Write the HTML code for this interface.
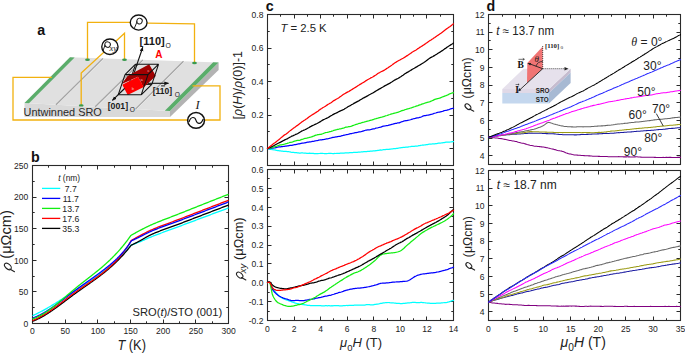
<!DOCTYPE html>
<html><head><meta charset="utf-8"><style>
html,body{margin:0;padding:0;background:#fff;width:685px;height:353px;overflow:hidden}
svg{display:block}
</style></head><body>
<svg width="685" height="353" viewBox="0 0 685 353" font-family='"Liberation Sans", sans-serif'>
<rect width="685" height="353" fill="#fff"/>
<polygon points="24.5,103 170,111 170,117 24.5,117" fill="#d9d9d9"/>
<polygon points="218.6,62.5 218.6,70 170,117 170,111" fill="#b3b3b3"/>
<polygon points="70,57.2 218.6,62.5 170,111 24.5,103" fill="#e0e0e0"/>
<line x1="104.2" y1="58.4" x2="57.2" y2="104.7" stroke="#f2f2f2" stroke-width="0.9"/>
<line x1="103" y1="58.4" x2="56" y2="104.7" stroke="#a4a4a4" stroke-width="1.25"/>
<line x1="144.2" y1="59.9" x2="96.4" y2="106.8" stroke="#f2f2f2" stroke-width="0.9"/>
<line x1="143" y1="59.9" x2="95.2" y2="106.8" stroke="#a4a4a4" stroke-width="1.25"/>
<line x1="184.7" y1="61.3" x2="136.7" y2="109.1" stroke="#f2f2f2" stroke-width="0.9"/>
<line x1="183.5" y1="61.3" x2="135.5" y2="109.1" stroke="#a4a4a4" stroke-width="1.25"/>
<polygon points="70,57.2 74.6,57.4 29,103.2 24.5,103" fill="#5aad6a"/>
<polygon points="213.2,62.3 218.6,62.5 170,111 164.8,110.7" fill="#5aad6a"/>
<text x="23.6" y="116" font-size="11.2" text-anchor="start" fill="#2a2a2a" font-weight="normal" font-style="normal" textLength="78.2" lengthAdjust="spacingAndGlyphs">Untwinned SRO</text>
<path d="M151.8 84.4L128.8 84.4M128.8 84.4L118.2 94.8M135.6 64.2L128.8 84.4" stroke="#111" stroke-width="1.0" fill="none" stroke-linejoin="round"/>
<line x1="133.4" y1="75" x2="137" y2="64.4" stroke="#111" stroke-width="1.1"/>
<polygon points="121.8,84 127.5,76 149.2,64.2 155.8,75.9 143.8,87.2 137.9,76.7" fill="#a00000"/>
<polygon points="122.3,84.8 137.9,76.7 143.8,86.9 127.7,95.1" fill="#ff0000"/>
<path d="M125 74.6L148 74.6M148 74.6L158.6 64.2M158.6 64.2L135.6 64.2M135.6 64.2L125 74.6M118.2 94.8L141.2 94.8M141.2 94.8L151.8 84.4M125 74.6L118.2 94.8M148 74.6L141.2 94.8M158.6 64.2L151.8 84.4" stroke="#111" stroke-width="1.05" fill="none" stroke-linejoin="round"/>
<defs><marker id="ah" viewBox="0 0 10 10" refX="9" refY="5" markerWidth="4.2" markerHeight="4.2" orient="auto-start-reverse"><path d="M0,1 L10,5 L0,9 z" fill="#111"/></marker></defs>
<line x1="136.5" y1="65.8" x2="142.8" y2="47.2" stroke="#111" stroke-width="1.1" marker-end="url(#ah)"/>
<line x1="148" y1="83.3" x2="168.5" y2="83.3" stroke="#111" stroke-width="1.1" marker-end="url(#ah)"/>
<line x1="124.5" y1="88.5" x2="112.4" y2="100.4" stroke="#111" stroke-width="1.1" marker-end="url(#ah)"/>
<text x="139.6" y="44.6" font-size="10.6" text-anchor="start" fill="#1a1a1a" font-weight="bold" font-style="normal" textLength="25.2" lengthAdjust="spacingAndGlyphs">[110]</text>
<text x="165.5" y="47.7" font-size="6.8" text-anchor="start" fill="#1a1a1a" font-weight="normal" font-style="normal" >O</text>
<text x="155.2" y="58.1" font-size="10" text-anchor="start" fill="#ff0000" font-weight="bold" font-style="normal" >A</text>
<text x="152.7" y="94.3" font-size="9" text-anchor="start" fill="#1a1a1a" font-weight="bold" font-style="normal" textLength="19.4" lengthAdjust="spacingAndGlyphs">[110]</text>
<line x1="161.1" y1="85.9" x2="165.1" y2="85.9" stroke="#1a1a1a" stroke-width="1"/>
<text x="174.7" y="97" font-size="6.6" text-anchor="start" fill="#1a1a1a" font-weight="normal" font-style="normal" >O</text>
<text x="107.7" y="109" font-size="9" text-anchor="start" fill="#1a1a1a" font-weight="bold" font-style="normal" textLength="20.4" lengthAdjust="spacingAndGlyphs">[001]</text>
<text x="129.7" y="111.7" font-size="6.6" text-anchor="start" fill="#1a1a1a" font-weight="normal" font-style="normal" >O</text>
<text x="147.5" y="71.5" font-size="4" text-anchor="start" fill="#f3c0c0" font-weight="normal" font-style="normal" >c</text>
<text x="140.5" y="80.5" font-size="4" text-anchor="start" fill="#f3c0c0" font-weight="normal" font-style="normal" >a</text>
<text x="131.8" y="89.5" font-size="4" text-anchor="start" fill="#f3c0c0" font-weight="normal" font-style="normal" >b</text>
<polyline points="87.5,59.6 87.5,22.3 130,22.3" fill="none" stroke="#f2b10f" stroke-width="1.3"/>
<polyline points="147.3,23.1 194.5,23.8 194.5,62.5" fill="none" stroke="#f2b10f" stroke-width="1.3"/>
<polyline points="124.5,59.6 124.5,33.2 81.2,73 81.2,105.2" fill="none" stroke="#f2b10f" stroke-width="1.3"/>
<polyline points="51.8,77.4 13,77.4 13,120 188,120" fill="none" stroke="#f2b10f" stroke-width="1.3"/>
<polyline points="205,120 220,120 220,85.8 192.5,85.8" fill="none" stroke="#f2b10f" stroke-width="1.3"/>
<ellipse cx="87.5" cy="59.8" rx="2.4" ry="1.2" fill="#3a9a4e"/>
<ellipse cx="124.5" cy="59.8" rx="2.4" ry="1.2" fill="#3a9a4e"/>
<ellipse cx="81.2" cy="105.4" rx="2.4" ry="1.2" fill="#3a9a4e"/>
<ellipse cx="194.5" cy="63" rx="2.4" ry="1.2" fill="#3a9a4e"/>
<ellipse cx="138.65" cy="22.55" rx="8.4" ry="7.5" fill="#fff" stroke="#111" stroke-width="1.35"/>
<g fill="none" stroke="#1a1a1a" stroke-width="0.95" stroke-linecap="round"><ellipse cx="139.5" cy="21.1" rx="2.7" ry="2.9" transform="rotate(25 139.5 21.1)"/><path d="M137.0,22.0 L134.6,27.6"/></g>
<ellipse cx="109.9" cy="46.7" rx="8.15" ry="7.75" fill="#fff" stroke="#111" stroke-width="1.35"/>
<g fill="none" stroke="#1a1a1a" stroke-width="0.95" stroke-linecap="round"><ellipse cx="107.6" cy="44.6" rx="2.8" ry="2.7" transform="rotate(25 107.6 44.6)"/><path d="M105.0,45.4 L102.9,50.8"/></g>
<text x="109.4" y="51" font-size="8.6" text-anchor="start" fill="#1a1a1a" font-weight="normal" font-style="italic" font-family='Liberation Serif' >xy</text>
<ellipse cx="196.05" cy="120.45" rx="8.4" ry="7.9" fill="#fff" stroke="#111" stroke-width="1.5"/>
<path d="M189,122 C191,116 194.8,116.6 196,120.4 C197.2,124.2 201,125 203.2,119" fill="none" stroke="#111" stroke-width="1.2"/>
<text x="197.6" y="109.4" font-size="12.5" text-anchor="middle" fill="#1a1a1a" font-weight="normal" font-style="italic" font-family='Liberation Serif' >I</text>
<text transform="translate(37.2,35) scale(0.92,1)" font-size="15.5" font-weight="bold" fill="#111">a</text>
<path d="M32.5 323.5v-4M32.5 165.5v4M48.5 323.5v-2.2M48.5 165.5v2.2M65.5 323.5v-4M65.5 165.5v4M81.5 323.5v-2.2M81.5 165.5v2.2M97.5 323.5v-4M97.5 165.5v4M114.5 323.5v-2.2M114.5 165.5v2.2M130.5 323.5v-4M130.5 165.5v4M146.5 323.5v-2.2M146.5 165.5v2.2M163.5 323.5v-4M163.5 165.5v4M179.5 323.5v-2.2M179.5 165.5v2.2M195.5 323.5v-4M195.5 165.5v4M212.5 323.5v-2.2M212.5 165.5v2.2M228.5 323.5v-4M228.5 165.5v4M32.5 323.5h4M228.5 323.5h-4M32.5 307.5h2.2M228.5 307.5h-2.2M32.5 291.5h4M228.5 291.5h-4M32.5 276.5h2.2M228.5 276.5h-2.2M32.5 260.5h4M228.5 260.5h-4M32.5 244.5h2.2M228.5 244.5h-2.2M32.5 228.5h4M228.5 228.5h-4M32.5 212.5h2.2M228.5 212.5h-2.2M32.5 197.5h4M228.5 197.5h-4M32.5 181.5h2.2M228.5 181.5h-2.2M32.5 165.5h4M228.5 165.5h-4" stroke="#2a2a2a" stroke-width="1" fill="none"/>
<rect x="32.5" y="165.5" width="196" height="158" fill="none" stroke="#2a2a2a" stroke-width="1.1"/>
<text transform="translate(28.3,326.8) scale(0.92,1)" font-size="9.3" text-anchor="end" fill="#222">0</text>
<text transform="translate(28.3,295.2) scale(0.92,1)" font-size="9.3" text-anchor="end" fill="#222">50</text>
<text transform="translate(28.3,263.6) scale(0.92,1)" font-size="9.3" text-anchor="end" fill="#222">100</text>
<text transform="translate(28.3,232) scale(0.92,1)" font-size="9.3" text-anchor="end" fill="#222">150</text>
<text transform="translate(28.3,200.4) scale(0.92,1)" font-size="9.3" text-anchor="end" fill="#222">200</text>
<text transform="translate(28.3,168.8) scale(0.92,1)" font-size="9.3" text-anchor="end" fill="#222">250</text>
<text transform="translate(32.5,333.6) scale(0.92,1)" font-size="9.3" text-anchor="middle" fill="#222">0</text>
<text transform="translate(65.17,333.6) scale(0.92,1)" font-size="9.3" text-anchor="middle" fill="#222">50</text>
<text transform="translate(97.83,333.6) scale(0.92,1)" font-size="9.3" text-anchor="middle" fill="#222">100</text>
<text transform="translate(130.5,333.6) scale(0.92,1)" font-size="9.3" text-anchor="middle" fill="#222">150</text>
<text transform="translate(163.17,333.6) scale(0.92,1)" font-size="9.3" text-anchor="middle" fill="#222">200</text>
<text transform="translate(195.83,333.6) scale(0.92,1)" font-size="9.3" text-anchor="middle" fill="#222">250</text>
<text transform="translate(228.5,333.6) scale(0.92,1)" font-size="9.3" text-anchor="middle" fill="#222">300</text>
<polyline points="32.5,315.71 32.95,315.51 33.4,315.3 33.85,315.1 34.3,314.89 34.75,314.68 35.2,314.47 35.65,314.25 36.1,314.04 36.55,313.82 37,313.6 37.46,313.38 37.91,313.15 38.36,312.93 38.81,312.7 39.26,312.47 39.71,312.24 40.16,312.01 40.61,311.77 41.06,311.54 41.51,311.3 41.96,311.06 42.41,310.82 42.86,310.57 43.31,310.33 43.76,310.08 44.21,309.83 44.66,309.58 45.11,309.33 45.56,309.08 46.01,308.83 46.46,308.57 46.92,308.31 47.37,308.06 47.82,307.8 48.27,307.54 48.72,307.27 49.17,307.01 49.62,306.75 50.07,306.48 50.52,306.21 50.97,305.95 51.42,305.68 51.87,305.41 52.32,305.14 52.77,304.86 53.22,304.59 53.67,304.32 54.12,304.04 54.57,303.76 55.02,303.49 55.47,303.21 55.92,302.93 56.38,302.65 56.83,302.37 57.28,302.09 57.73,301.81 58.18,301.53 58.63,301.24 59.08,300.96 59.53,300.67 59.98,300.39 60.43,300.1 60.88,299.82 61.33,299.53 61.78,299.24 62.23,298.96 62.68,298.67 63.13,298.38 63.58,298.09 64.03,297.8 64.48,297.51 64.93,297.22 65.38,296.93 65.83,296.64 66.29,296.35 66.74,296.06 67.19,295.77 67.64,295.48 68.09,295.19 68.54,294.9 68.99,294.6 69.44,294.31 69.89,294.02 70.34,293.73 70.79,293.44 71.24,293.15 71.69,292.86 72.14,292.57 72.59,292.28 73.04,291.99 73.49,291.7 73.94,291.41 74.39,291.12 74.84,290.83 75.29,290.54 75.75,290.25 76.2,289.96 76.65,289.67 77.1,289.38 77.55,289.09 78,288.81 78.45,288.52 78.9,288.23 79.35,287.94 79.8,287.66 80.25,287.37 80.7,287.08 81.15,286.79 81.6,286.5 82.05,286.21 82.5,285.93 82.95,285.64 83.4,285.35 83.85,285.06 84.3,284.77 84.75,284.48 85.21,284.18 85.66,283.89 86.11,283.6 86.56,283.31 87.01,283.01 87.46,282.72 87.91,282.42 88.36,282.13 88.81,281.83 89.26,281.53 89.71,281.24 90.16,280.94 90.61,280.64 91.06,280.33 91.51,280.03 91.96,279.73 92.41,279.42 92.86,279.12 93.31,278.81 93.76,278.5 94.21,278.2 94.67,277.89 95.12,277.57 95.57,277.26 96.02,276.95 96.47,276.63 96.92,276.31 97.37,275.99 97.82,275.67 98.27,275.35 98.72,275.03 99.17,274.7 99.62,274.38 100.07,274.05 100.52,273.72 100.97,273.38 101.42,273.05 101.87,272.71 102.32,272.37 102.77,272.03 103.22,271.69 103.67,271.35 104.13,271 104.58,270.65 105.03,270.3 105.48,269.95 105.93,269.6 106.38,269.24 106.83,268.88 107.28,268.52 107.73,268.15 108.18,267.79 108.63,267.42 109.08,267.05 109.53,266.67 109.98,266.3 110.43,265.92 110.88,265.54 111.33,265.15 111.78,264.76 112.23,264.37 112.68,263.98 113.13,263.59 113.58,263.19 114.04,262.79 114.49,262.38 114.94,261.97 115.39,261.56 115.84,261.15 116.29,260.73 116.74,260.31 117.19,259.89 117.64,259.47 118.09,259.04 118.54,258.6 118.99,258.17 119.44,257.73 119.89,257.29 120.34,256.84 120.79,256.39 121.24,255.94 121.69,255.48 122.14,255.02 122.59,254.56 123.04,254.09 123.5,253.62 123.95,253.14 124.4,252.66 124.85,252.18 125.3,251.7 125.75,251.21 126.2,250.71 126.65,250.21 127.1,249.71 127.55,249.21 128,248.69 128.45,248.18 128.9,247.66 129.35,247.14 129.8,246.61 130.25,246.08 130.7,245.55 131.15,245.01 131.85,244.77 132.55,244.53 133.25,244.28 133.95,244.03 134.66,243.78 135.36,243.53 136.06,243.27 136.76,243.01 137.46,242.74 138.16,242.47 138.86,242.2 139.56,241.92 140.26,241.64 140.96,241.35 141.66,241.06 142.36,240.75 143.06,240.44 143.76,240.13 144.46,239.82 145.16,239.5 145.86,239.18 146.56,238.87 147.26,238.55 147.96,238.25 148.66,237.94 149.36,237.65 150.06,237.36 150.76,237.07 151.46,236.79 152.16,236.51 152.86,236.23 153.56,235.95 154.26,235.68 154.96,235.4 155.67,235.13 156.37,234.86 157.07,234.59 157.77,234.33 158.47,234.06 159.17,233.79 159.87,233.53 160.57,233.27 161.27,233.01 161.97,232.75 162.67,232.49 163.37,232.23 164.07,231.97 164.77,231.71 165.47,231.45 166.17,231.2 166.87,230.94 167.57,230.68 168.27,230.43 168.97,230.17 169.67,229.92 170.37,229.66 171.07,229.41 171.77,229.15 172.47,228.89 173.17,228.64 173.87,228.38 174.57,228.12 175.27,227.87 175.97,227.61 176.68,227.35 177.38,227.09 178.08,226.83 178.78,226.57 179.48,226.31 180.18,226.04 180.88,225.78 181.58,225.52 182.28,225.26 182.98,224.99 183.68,224.73 184.38,224.47 185.08,224.21 185.78,223.94 186.48,223.68 187.18,223.42 187.88,223.16 188.58,222.89 189.28,222.63 189.98,222.37 190.68,222.11 191.38,221.84 192.08,221.58 192.78,221.32 193.48,221.06 194.18,220.8 194.88,220.53 195.58,220.27 196.28,220.01 196.98,219.75 197.69,219.48 198.39,219.22 199.09,218.96 199.79,218.7 200.49,218.44 201.19,218.17 201.89,217.91 202.59,217.65 203.29,217.39 203.99,217.13 204.69,216.86 205.39,216.6 206.09,216.34 206.79,216.08 207.49,215.82 208.19,215.55 208.89,215.29 209.59,215.03 210.29,214.77 210.99,214.51 211.69,214.25 212.39,213.98 213.09,213.72 213.79,213.46 214.49,213.2 215.19,212.94 215.89,212.68 216.59,212.41 217.29,212.15 217.99,211.89 218.7,211.63 219.4,211.37 220.1,211.11 220.8,210.84 221.5,210.58 222.2,210.32 222.9,210.06 223.6,209.8 224.3,209.54 225,209.28 225.7,209.02 226.4,208.75 227.1,208.49 227.8,208.23 228.5,207.97" fill="none" stroke="#00ffff" stroke-width="1.3" stroke-linejoin="round"/>
<polyline points="32.5,321.32 32.95,321.15 33.4,320.98 33.85,320.8 34.3,320.62 34.75,320.43 35.2,320.24 35.65,320.04 36.1,319.84 36.55,319.64 37,319.43 37.46,319.22 37.91,319.01 38.36,318.79 38.81,318.56 39.26,318.34 39.71,318.11 40.16,317.87 40.61,317.63 41.06,317.39 41.51,317.15 41.96,316.9 42.41,316.65 42.86,316.39 43.31,316.13 43.76,315.87 44.21,315.61 44.66,315.34 45.11,315.07 45.56,314.8 46.01,314.52 46.46,314.24 46.92,313.96 47.37,313.68 47.82,313.39 48.27,313.1 48.72,312.81 49.17,312.51 49.62,312.22 50.07,311.92 50.52,311.62 50.97,311.32 51.42,311.01 51.87,310.7 52.32,310.39 52.77,310.08 53.22,309.77 53.67,309.45 54.12,309.14 54.57,308.82 55.02,308.5 55.47,308.18 55.92,307.85 56.38,307.53 56.83,307.2 57.28,306.88 57.73,306.55 58.18,306.22 58.63,305.89 59.08,305.56 59.53,305.23 59.98,304.89 60.43,304.56 60.88,304.22 61.33,303.89 61.78,303.55 62.23,303.21 62.68,302.88 63.13,302.54 63.58,302.2 64.03,301.86 64.48,301.52 64.93,301.18 65.38,300.84 65.83,300.5 66.29,300.16 66.74,299.82 67.19,299.48 67.64,299.14 68.09,298.81 68.54,298.47 68.99,298.13 69.44,297.79 69.89,297.45 70.34,297.11 70.79,296.78 71.24,296.44 71.69,296.11 72.14,295.77 72.59,295.44 73.04,295.1 73.49,294.77 73.94,294.44 74.39,294.11 74.84,293.78 75.29,293.45 75.75,293.13 76.2,292.8 76.65,292.48 77.1,292.15 77.55,291.83 78,291.51 78.45,291.19 78.9,290.87 79.35,290.55 79.8,290.23 80.25,289.92 80.7,289.6 81.15,289.28 81.6,288.96 82.05,288.65 82.5,288.33 82.95,288.02 83.4,287.7 83.85,287.39 84.3,287.07 84.75,286.76 85.21,286.45 85.66,286.13 86.11,285.82 86.56,285.5 87.01,285.19 87.46,284.87 87.91,284.56 88.36,284.24 88.81,283.93 89.26,283.61 89.71,283.3 90.16,282.98 90.61,282.66 91.06,282.34 91.51,282.02 91.96,281.7 92.41,281.38 92.86,281.06 93.31,280.74 93.76,280.42 94.21,280.09 94.67,279.77 95.12,279.44 95.57,279.12 96.02,278.79 96.47,278.46 96.92,278.13 97.37,277.79 97.82,277.46 98.27,277.13 98.72,276.79 99.17,276.45 99.62,276.11 100.07,275.77 100.52,275.43 100.97,275.08 101.42,274.74 101.87,274.39 102.32,274.04 102.77,273.69 103.22,273.33 103.67,272.97 104.13,272.62 104.58,272.26 105.03,271.89 105.48,271.53 105.93,271.16 106.38,270.79 106.83,270.42 107.28,270.04 107.73,269.66 108.18,269.29 108.63,268.9 109.08,268.52 109.53,268.13 109.98,267.74 110.43,267.34 110.88,266.95 111.33,266.55 111.78,266.15 112.23,265.74 112.68,265.33 113.13,264.92 113.58,264.5 114.04,264.09 114.49,263.66 114.94,263.24 115.39,262.81 115.84,262.38 116.29,261.94 116.74,261.51 117.19,261.06 117.64,260.62 118.09,260.17 118.54,259.71 118.99,259.25 119.44,258.79 119.89,258.33 120.34,257.86 120.79,257.38 121.24,256.91 121.69,256.43 122.14,255.94 122.59,255.45 123.04,254.95 123.5,254.46 123.95,253.95 124.4,253.44 124.85,252.93 125.3,252.42 125.75,251.89 126.2,251.37 126.65,250.84 127.1,250.3 127.55,249.76 128,249.22 128.45,248.67 128.9,248.11 129.35,247.55 129.8,246.99 130.25,246.42 130.7,245.84 131.15,245.26 131.85,244.92 132.55,244.58 133.25,244.24 133.95,243.89 134.66,243.54 135.36,243.19 136.06,242.84 136.76,242.48 137.46,242.12 138.16,241.76 138.86,241.39 139.56,241.02 140.26,240.65 140.96,240.26 141.66,239.86 142.36,239.46 143.06,239.04 143.76,238.63 144.46,238.21 145.16,237.8 145.86,237.38 146.56,236.98 147.26,236.58 147.96,236.2 148.66,235.83 149.36,235.47 150.06,235.14 150.76,234.81 151.46,234.49 152.16,234.17 152.86,233.86 153.56,233.56 154.26,233.26 154.96,232.96 155.67,232.67 156.37,232.38 157.07,232.1 157.77,231.82 158.47,231.54 159.17,231.27 159.87,231 160.57,230.73 161.27,230.46 161.97,230.2 162.67,229.94 163.37,229.68 164.07,229.43 164.77,229.17 165.47,228.92 166.17,228.67 166.87,228.42 167.57,228.17 168.27,227.92 168.97,227.67 169.67,227.42 170.37,227.17 171.07,226.92 171.77,226.67 172.47,226.42 173.17,226.17 173.87,225.92 174.57,225.67 175.27,225.41 175.97,225.15 176.68,224.9 177.38,224.64 178.08,224.37 178.78,224.11 179.48,223.84 180.18,223.57 180.88,223.31 181.58,223.04 182.28,222.77 182.98,222.5 183.68,222.23 184.38,221.96 185.08,221.69 185.78,221.42 186.48,221.16 187.18,220.89 187.88,220.62 188.58,220.35 189.28,220.08 189.98,219.81 190.68,219.54 191.38,219.28 192.08,219.01 192.78,218.74 193.48,218.47 194.18,218.2 194.88,217.93 195.58,217.66 196.28,217.4 196.98,217.13 197.69,216.86 198.39,216.59 199.09,216.32 199.79,216.05 200.49,215.79 201.19,215.52 201.89,215.25 202.59,214.98 203.29,214.71 203.99,214.44 204.69,214.18 205.39,213.91 206.09,213.64 206.79,213.37 207.49,213.1 208.19,212.83 208.89,212.57 209.59,212.3 210.29,212.03 210.99,211.76 211.69,211.49 212.39,211.23 213.09,210.96 213.79,210.69 214.49,210.42 215.19,210.15 215.89,209.88 216.59,209.62 217.29,209.35 217.99,209.08 218.7,208.81 219.4,208.54 220.1,208.28 220.8,208.01 221.5,207.74 222.2,207.47 222.9,207.21 223.6,206.94 224.3,206.67 225,206.4 225.7,206.13 226.4,205.87 227.1,205.6 227.8,205.33 228.5,205.06" fill="none" stroke="#000000" stroke-width="1.3" stroke-linejoin="round"/>
<polyline points="32.5,320.55 32.95,320.37 33.4,320.19 33.85,320 34.31,319.81 34.76,319.62 35.21,319.42 35.66,319.21 36.11,319 36.56,318.79 37.01,318.57 37.47,318.35 37.92,318.12 38.37,317.9 38.82,317.66 39.27,317.43 39.72,317.18 40.17,316.94 40.62,316.69 41.08,316.44 41.53,316.19 41.98,315.93 42.43,315.67 42.88,315.4 43.33,315.14 43.78,314.87 44.24,314.59 44.69,314.32 45.14,314.04 45.59,313.75 46.04,313.47 46.49,313.18 46.94,312.89 47.4,312.6 47.85,312.3 48.3,312 48.75,311.7 49.2,311.4 49.65,311.1 50.1,310.79 50.55,310.48 51.01,310.17 51.46,309.86 51.91,309.54 52.36,309.22 52.81,308.91 53.26,308.59 53.71,308.26 54.17,307.94 54.62,307.62 55.07,307.29 55.52,306.96 55.97,306.63 56.42,306.3 56.87,305.97 57.33,305.64 57.78,305.3 58.23,304.97 58.68,304.63 59.13,304.3 59.58,303.96 60.03,303.62 60.48,303.28 60.94,302.94 61.39,302.6 61.84,302.26 62.29,301.92 62.74,301.58 63.19,301.24 63.64,300.9 64.1,300.56 64.55,300.21 65,299.87 65.45,299.53 65.9,299.19 66.35,298.85 66.8,298.51 67.26,298.17 67.71,297.83 68.16,297.49 68.61,297.15 69.06,296.81 69.51,296.47 69.96,296.13 70.41,295.8 70.87,295.46 71.32,295.13 71.77,294.79 72.22,294.46 72.67,294.13 73.12,293.8 73.57,293.47 74.03,293.14 74.48,292.82 74.93,292.49 75.38,292.17 75.83,291.84 76.28,291.52 76.73,291.2 77.19,290.89 77.64,290.57 78.09,290.25 78.54,289.94 78.99,289.63 79.44,289.31 79.89,289 80.34,288.69 80.8,288.38 81.25,288.07 81.7,287.76 82.15,287.45 82.6,287.14 83.05,286.84 83.5,286.53 83.96,286.22 84.41,285.91 84.86,285.61 85.31,285.3 85.76,284.99 86.21,284.69 86.66,284.38 87.12,284.07 87.57,283.77 88.02,283.46 88.47,283.15 88.92,282.84 89.37,282.53 89.82,282.22 90.27,281.91 90.73,281.6 91.18,281.29 91.63,280.98 92.08,280.66 92.53,280.35 92.98,280.03 93.43,279.72 93.89,279.4 94.34,279.08 94.79,278.76 95.24,278.44 95.69,278.12 96.14,277.79 96.59,277.47 97.05,277.14 97.5,276.81 97.95,276.48 98.4,276.14 98.85,275.81 99.3,275.47 99.75,275.13 100.21,274.79 100.66,274.45 101.11,274.11 101.56,273.76 102.01,273.41 102.46,273.06 102.91,272.7 103.36,272.35 103.82,271.99 104.27,271.62 104.72,271.26 105.17,270.89 105.62,270.52 106.07,270.15 106.52,269.77 106.98,269.39 107.43,269.01 107.88,268.62 108.33,268.23 108.78,267.84 109.23,267.44 109.68,267.05 110.14,266.64 110.59,266.24 111.04,265.83 111.49,265.41 111.94,264.99 112.39,264.57 112.84,264.14 113.29,263.71 113.75,263.27 114.2,262.83 114.65,262.38 115.1,261.93 115.55,261.47 116,261.01 116.45,260.54 116.91,260.06 117.36,259.58 117.81,259.09 118.26,258.59 118.71,258.09 119.16,257.58 119.61,257.06 120.07,256.53 120.52,256 120.97,255.46 121.42,254.91 121.87,254.35 122.32,253.79 122.77,253.21 123.22,252.63 123.68,252.03 124.13,251.43 124.58,250.82 125.03,250.2 125.48,249.57 125.93,248.93 126.38,248.28 126.84,247.62 127.29,246.94 127.74,246.26 128.19,245.57 128.64,244.86 129.09,244.15 129.54,243.42 130,242.68 130.45,241.93 130.9,241.17 131.35,240.39 132.05,240 132.75,239.61 133.45,239.22 134.15,238.83 134.84,238.45 135.54,238.07 136.24,237.68 136.94,237.3 137.64,236.93 138.34,236.55 139.04,236.18 139.74,235.81 140.44,235.44 141.13,235.06 141.83,234.69 142.53,234.32 143.23,233.94 143.93,233.57 144.63,233.2 145.33,232.84 146.03,232.48 146.73,232.12 147.42,231.77 148.12,231.43 148.82,231.1 149.52,230.77 150.22,230.45 150.92,230.14 151.62,229.84 152.32,229.53 153.02,229.23 153.71,228.94 154.41,228.64 155.11,228.35 155.81,228.07 156.51,227.79 157.21,227.5 157.91,227.23 158.61,226.95 159.31,226.68 160.01,226.41 160.7,226.14 161.4,225.87 162.1,225.61 162.8,225.35 163.5,225.08 164.2,224.82 164.9,224.56 165.6,224.31 166.3,224.05 166.99,223.79 167.69,223.54 168.39,223.28 169.09,223.03 169.79,222.77 170.49,222.51 171.19,222.26 171.89,222 172.59,221.75 173.28,221.49 173.98,221.23 174.68,220.98 175.38,220.72 176.08,220.45 176.78,220.19 177.48,219.93 178.18,219.66 178.88,219.4 179.58,219.13 180.27,218.86 180.97,218.59 181.67,218.32 182.37,218.05 183.07,217.78 183.77,217.51 184.47,217.24 185.17,216.97 185.87,216.7 186.56,216.43 187.26,216.16 187.96,215.89 188.66,215.62 189.36,215.35 190.06,215.08 190.76,214.81 191.46,214.54 192.16,214.27 192.85,214 193.55,213.73 194.25,213.46 194.95,213.19 195.65,212.92 196.35,212.65 197.05,212.38 197.75,212.11 198.45,211.84 199.15,211.57 199.84,211.31 200.54,211.04 201.24,210.77 201.94,210.5 202.64,210.23 203.34,209.96 204.04,209.69 204.74,209.42 205.44,209.15 206.13,208.88 206.83,208.61 207.53,208.34 208.23,208.07 208.93,207.8 209.63,207.53 210.33,207.26 211.03,206.99 211.73,206.72 212.42,206.45 213.12,206.18 213.82,205.92 214.52,205.65 215.22,205.38 215.92,205.11 216.62,204.84 217.32,204.57 218.02,204.3 218.72,204.03 219.41,203.76 220.11,203.49 220.81,203.22 221.51,202.95 222.21,202.68 222.91,202.41 223.61,202.14 224.31,201.88 225.01,201.61 225.7,201.34 226.4,201.07 227.1,200.8 227.8,200.53 228.5,200.26" fill="none" stroke="#ff0000" stroke-width="1.3" stroke-linejoin="round"/>
<polyline points="32.5,318.08 32.95,317.93 33.4,317.76 33.85,317.59 34.31,317.42 34.76,317.24 35.21,317.06 35.66,316.87 36.11,316.68 36.56,316.49 37.01,316.29 37.47,316.08 37.92,315.87 38.37,315.66 38.82,315.44 39.27,315.22 39.72,315 40.17,314.77 40.62,314.54 41.08,314.3 41.53,314.06 41.98,313.82 42.43,313.57 42.88,313.32 43.33,313.06 43.78,312.81 44.24,312.55 44.69,312.28 45.14,312.01 45.59,311.74 46.04,311.47 46.49,311.19 46.94,310.92 47.4,310.63 47.85,310.35 48.3,310.06 48.75,309.77 49.2,309.48 49.65,309.18 50.1,308.88 50.55,308.58 51.01,308.28 51.46,307.98 51.91,307.67 52.36,307.36 52.81,307.05 53.26,306.73 53.71,306.42 54.17,306.1 54.62,305.78 55.07,305.46 55.52,305.14 55.97,304.81 56.42,304.49 56.87,304.16 57.33,303.83 57.78,303.5 58.23,303.17 58.68,302.84 59.13,302.51 59.58,302.17 60.03,301.84 60.48,301.5 60.94,301.16 61.39,300.82 61.84,300.48 62.29,300.14 62.74,299.8 63.19,299.46 63.64,299.12 64.1,298.78 64.55,298.44 65,298.09 65.45,297.75 65.9,297.41 66.35,297.06 66.8,296.72 67.26,296.38 67.71,296.03 68.16,295.69 68.61,295.35 69.06,295 69.51,294.66 69.96,294.32 70.41,293.98 70.87,293.64 71.32,293.3 71.77,292.96 72.22,292.62 72.67,292.28 73.12,291.94 73.57,291.6 74.03,291.27 74.48,290.93 74.93,290.6 75.38,290.27 75.83,289.94 76.28,289.61 76.73,289.28 77.19,288.95 77.64,288.62 78.09,288.3 78.54,287.97 78.99,287.65 79.44,287.32 79.89,287 80.34,286.68 80.8,286.36 81.25,286.03 81.7,285.71 82.15,285.39 82.6,285.07 83.05,284.75 83.5,284.44 83.96,284.12 84.41,283.8 84.86,283.48 85.31,283.16 85.76,282.85 86.21,282.53 86.66,282.21 87.12,281.89 87.57,281.58 88.02,281.26 88.47,280.94 88.92,280.62 89.37,280.3 89.82,279.99 90.27,279.67 90.73,279.35 91.18,279.03 91.63,278.71 92.08,278.39 92.53,278.07 92.98,277.75 93.43,277.43 93.89,277.1 94.34,276.78 94.79,276.46 95.24,276.13 95.69,275.81 96.14,275.48 96.59,275.15 97.05,274.82 97.5,274.49 97.95,274.16 98.4,273.83 98.85,273.5 99.3,273.17 99.75,272.83 100.21,272.49 100.66,272.16 101.11,271.82 101.56,271.48 102.01,271.14 102.46,270.79 102.91,270.45 103.36,270.1 103.82,269.75 104.27,269.4 104.72,269.05 105.17,268.7 105.62,268.34 106.07,267.99 106.52,267.63 106.98,267.27 107.43,266.91 107.88,266.54 108.33,266.17 108.78,265.81 109.23,265.44 109.68,265.06 110.14,264.69 110.59,264.31 111.04,263.93 111.49,263.55 111.94,263.16 112.39,262.77 112.84,262.38 113.29,261.98 113.75,261.58 114.2,261.18 114.65,260.77 115.1,260.36 115.55,259.94 116,259.52 116.45,259.09 116.91,258.66 117.36,258.22 117.81,257.78 118.26,257.33 118.71,256.87 119.16,256.41 119.61,255.94 120.07,255.47 120.52,254.99 120.97,254.5 121.42,254 121.87,253.5 122.32,252.99 122.77,252.47 123.22,251.94 123.68,251.41 124.13,250.86 124.58,250.31 125.03,249.75 125.48,249.18 125.93,248.6 126.38,248.01 126.84,247.41 127.29,246.8 127.74,246.18 128.19,245.55 128.64,244.91 129.09,244.26 129.54,243.6 130,242.92 130.45,242.24 130.9,241.54 131.35,240.83 132.05,240.51 132.75,240.19 133.45,239.86 134.15,239.54 134.84,239.21 135.54,238.88 136.24,238.55 136.94,238.22 137.64,237.88 138.34,237.55 139.04,237.21 139.74,236.87 140.44,236.53 141.13,236.18 141.83,235.83 142.53,235.47 143.23,235.11 143.93,234.74 144.63,234.38 145.33,234.02 146.03,233.66 146.73,233.31 147.42,232.96 148.12,232.62 148.82,232.29 149.52,231.97 150.22,231.66 150.92,231.35 151.62,231.05 152.32,230.76 153.02,230.47 153.71,230.18 154.41,229.89 155.11,229.61 155.81,229.33 156.51,229.05 157.21,228.78 157.91,228.51 158.61,228.24 159.31,227.97 160.01,227.71 160.7,227.45 161.4,227.19 162.1,226.93 162.8,226.67 163.5,226.41 164.2,226.16 164.9,225.91 165.6,225.65 166.3,225.4 166.99,225.15 167.69,224.9 168.39,224.65 169.09,224.4 169.79,224.15 170.49,223.9 171.19,223.65 171.89,223.4 172.59,223.15 173.28,222.9 173.98,222.65 174.68,222.39 175.38,222.14 176.08,221.88 176.78,221.63 177.48,221.37 178.18,221.11 178.88,220.85 179.58,220.58 180.27,220.32 180.97,220.05 181.67,219.79 182.37,219.52 183.07,219.26 183.77,218.99 184.47,218.73 185.17,218.46 185.87,218.2 186.56,217.93 187.26,217.67 187.96,217.4 188.66,217.14 189.36,216.87 190.06,216.6 190.76,216.34 191.46,216.07 192.16,215.81 192.85,215.54 193.55,215.28 194.25,215.01 194.95,214.75 195.65,214.48 196.35,214.22 197.05,213.95 197.75,213.68 198.45,213.42 199.15,213.15 199.84,212.89 200.54,212.62 201.24,212.36 201.94,212.09 202.64,211.82 203.34,211.56 204.04,211.29 204.74,211.03 205.44,210.76 206.13,210.49 206.83,210.23 207.53,209.96 208.23,209.7 208.93,209.43 209.63,209.16 210.33,208.9 211.03,208.63 211.73,208.37 212.42,208.1 213.12,207.83 213.82,207.57 214.52,207.3 215.22,207.03 215.92,206.77 216.62,206.5 217.32,206.23 218.02,205.97 218.72,205.7 219.41,205.43 220.11,205.17 220.81,204.9 221.51,204.63 222.21,204.37 222.91,204.1 223.61,203.83 224.31,203.57 225.01,203.3 225.7,203.03 226.4,202.77 227.1,202.5 227.8,202.23 228.5,201.97" fill="none" stroke="#0000ff" stroke-width="1.3" stroke-linejoin="round"/>
<polyline points="32.5,318.97 32.95,318.83 33.4,318.68 33.85,318.52 34.3,318.35 34.75,318.18 35.2,318 35.64,317.82 36.09,317.63 36.54,317.44 36.99,317.24 37.44,317.03 37.89,316.82 38.34,316.6 38.79,316.38 39.24,316.15 39.69,315.92 40.14,315.68 40.59,315.44 41.04,315.19 41.49,314.94 41.93,314.68 42.38,314.42 42.83,314.16 43.28,313.88 43.73,313.61 44.18,313.33 44.63,313.05 45.08,312.76 45.53,312.47 45.98,312.17 46.43,311.87 46.88,311.57 47.33,311.26 47.78,310.95 48.22,310.63 48.67,310.32 49.12,309.99 49.57,309.67 50.02,309.34 50.47,309.01 50.92,308.68 51.37,308.34 51.82,308 52.27,307.66 52.72,307.31 53.17,306.97 53.62,306.61 54.07,306.26 54.51,305.91 54.96,305.55 55.41,305.19 55.86,304.83 56.31,304.46 56.76,304.1 57.21,303.73 57.66,303.36 58.11,302.99 58.56,302.62 59.01,302.25 59.46,301.87 59.91,301.49 60.36,301.12 60.8,300.74 61.25,300.36 61.7,299.98 62.15,299.59 62.6,299.21 63.05,298.83 63.5,298.45 63.95,298.06 64.4,297.68 64.85,297.29 65.3,296.9 65.75,296.52 66.2,296.13 66.65,295.75 67.09,295.36 67.54,294.98 67.99,294.59 68.44,294.2 68.89,293.82 69.34,293.44 69.79,293.05 70.24,292.67 70.69,292.29 71.14,291.9 71.59,291.52 72.04,291.14 72.49,290.77 72.94,290.39 73.38,290.01 73.83,289.64 74.28,289.26 74.73,288.89 75.18,288.52 75.63,288.15 76.08,287.79 76.53,287.42 76.98,287.06 77.43,286.69 77.88,286.33 78.33,285.97 78.78,285.61 79.22,285.25 79.67,284.9 80.12,284.54 80.57,284.19 81.02,283.83 81.47,283.48 81.92,283.12 82.37,282.77 82.82,282.42 83.27,282.07 83.72,281.72 84.17,281.37 84.62,281.02 85.07,280.67 85.51,280.32 85.96,279.97 86.41,279.62 86.86,279.27 87.31,278.92 87.76,278.58 88.21,278.23 88.66,277.88 89.11,277.53 89.56,277.18 90.01,276.83 90.46,276.48 90.91,276.13 91.36,275.78 91.8,275.42 92.25,275.07 92.7,274.72 93.15,274.36 93.6,274.01 94.05,273.65 94.5,273.29 94.95,272.94 95.4,272.58 95.85,272.22 96.3,271.85 96.75,271.49 97.2,271.13 97.65,270.76 98.09,270.39 98.54,270.02 98.99,269.65 99.44,269.28 99.89,268.91 100.34,268.53 100.79,268.15 101.24,267.78 101.69,267.39 102.14,267.01 102.59,266.63 103.04,266.24 103.49,265.85 103.94,265.46 104.38,265.06 104.83,264.67 105.28,264.27 105.73,263.86 106.18,263.46 106.63,263.05 107.08,262.64 107.53,262.23 107.98,261.82 108.43,261.4 108.88,260.98 109.33,260.55 109.78,260.13 110.23,259.7 110.67,259.26 111.12,258.83 111.57,258.39 112.02,257.94 112.47,257.5 112.92,257.04 113.37,256.59 113.82,256.13 114.27,255.67 114.72,255.21 115.17,254.74 115.62,254.27 116.07,253.79 116.52,253.31 116.96,252.82 117.41,252.34 117.86,251.84 118.31,251.35 118.76,250.85 119.21,250.34 119.66,249.83 120.11,249.31 120.56,248.8 121.01,248.27 121.46,247.74 121.91,247.21 122.36,246.67 122.8,246.13 123.25,245.58 123.7,245.03 124.15,244.47 124.6,243.91 125.05,243.34 125.5,242.77 125.95,242.19 126.4,241.61 126.85,241.02 127.3,240.42 127.75,239.82 128.2,239.22 128.65,238.61 129.09,237.99 129.54,237.37 129.99,236.74 130.44,236.1 130.89,235.46 131.59,235.06 132.3,234.65 133,234.25 133.7,233.86 134.4,233.46 135.11,233.07 135.81,232.68 136.51,232.29 137.21,231.91 137.91,231.53 138.62,231.15 139.32,230.78 140.02,230.41 140.72,230.04 141.43,229.67 142.13,229.31 142.83,228.94 143.53,228.58 144.23,228.22 144.94,227.87 145.64,227.51 146.34,227.17 147.04,226.82 147.75,226.48 148.45,226.15 149.15,225.82 149.85,225.5 150.55,225.18 151.26,224.87 151.96,224.56 152.66,224.26 153.36,223.95 154.07,223.65 154.77,223.35 155.47,223.06 156.17,222.77 156.87,222.48 157.58,222.19 158.28,221.9 158.98,221.62 159.68,221.34 160.39,221.06 161.09,220.78 161.79,220.5 162.49,220.23 163.19,219.95 163.9,219.68 164.6,219.41 165.3,219.14 166,218.87 166.71,218.6 167.41,218.33 168.11,218.06 168.81,217.79 169.51,217.52 170.22,217.25 170.92,216.99 171.62,216.72 172.32,216.45 173.02,216.18 173.73,215.91 174.43,215.64 175.13,215.37 175.83,215.1 176.54,214.82 177.24,214.55 177.94,214.27 178.64,214 179.34,213.72 180.05,213.44 180.75,213.16 181.45,212.88 182.15,212.6 182.86,212.32 183.56,212.04 184.26,211.77 184.96,211.49 185.66,211.21 186.37,210.93 187.07,210.65 187.77,210.37 188.47,210.09 189.18,209.81 189.88,209.53 190.58,209.25 191.28,208.98 191.98,208.7 192.69,208.42 193.39,208.14 194.09,207.86 194.79,207.58 195.5,207.3 196.2,207.03 196.9,206.75 197.6,206.47 198.3,206.19 199.01,205.91 199.71,205.63 200.41,205.36 201.11,205.08 201.82,204.8 202.52,204.52 203.22,204.24 203.92,203.96 204.62,203.69 205.33,203.41 206.03,203.13 206.73,202.85 207.43,202.57 208.14,202.3 208.84,202.02 209.54,201.74 210.24,201.46 210.94,201.18 211.65,200.91 212.35,200.63 213.05,200.35 213.75,200.07 214.46,199.8 215.16,199.52 215.86,199.24 216.56,198.96 217.26,198.69 217.97,198.41 218.67,198.13 219.37,197.86 220.07,197.58 220.78,197.3 221.48,197.02 222.18,196.75 222.88,196.47 223.58,196.19 224.29,195.92 224.99,195.64 225.69,195.36 226.39,195.09 227.1,194.81 227.8,194.53 228.5,194.26" fill="none" stroke="#11ee11" stroke-width="1.3" stroke-linejoin="round"/>
<text x="58.2" y="181.2" font-size="8.4" text-anchor="start" fill="#222" font-weight="normal" font-style="normal" ><tspan font-style="italic">t</tspan> (nm)</text>
<line x1="42" y1="188.4" x2="60.3" y2="188.4" stroke="#00ffff" stroke-width="1.3"/>
<text x="70.8" y="191.5" font-size="8.7" text-anchor="middle" fill="#222" font-weight="normal" font-style="normal" >7.7</text>
<line x1="42" y1="198.4" x2="60.3" y2="198.4" stroke="#0000ff" stroke-width="1.3"/>
<text x="70.8" y="201.5" font-size="8.7" text-anchor="middle" fill="#222" font-weight="normal" font-style="normal" >11.7</text>
<line x1="42" y1="208.4" x2="60.3" y2="208.4" stroke="#11ee11" stroke-width="1.3"/>
<text x="70.8" y="211.5" font-size="8.7" text-anchor="middle" fill="#222" font-weight="normal" font-style="normal" >13.7</text>
<line x1="42" y1="218.4" x2="60.3" y2="218.4" stroke="#ff0000" stroke-width="1.3"/>
<text x="70.8" y="221.5" font-size="8.7" text-anchor="middle" fill="#222" font-weight="normal" font-style="normal" >17.6</text>
<line x1="42" y1="228.4" x2="60.3" y2="228.4" stroke="#000000" stroke-width="1.3"/>
<text x="70.8" y="231.5" font-size="8.7" text-anchor="middle" fill="#222" font-weight="normal" font-style="normal" >35.3</text>
<text x="132.5" y="316.4" font-size="11" text-anchor="start" fill="#222" font-weight="normal" font-style="normal" textLength="89.7" lengthAdjust="spacingAndGlyphs">SRO(<tspan font-style="italic">t</tspan>)/STO (001)</text>
<text transform="translate(31,162) scale(0.92,1)" font-size="15.5" font-weight="bold" fill="#111">b</text>
<g transform="translate(11,272.3) rotate(-90)">
<g transform="scale(1)" fill="none" stroke="#222" stroke-width="1.1" stroke-linecap="round"><ellipse cx="5.9" cy="-3.1" rx="4.0" ry="2.45" transform="rotate(-48 5.9 -3.1)"/><path d="M3.3,-1.2 L0.6,3.5"/></g>
<text x="13.6" y="0" font-size="15" fill="#222" textLength="48.5" lengthAdjust="spacingAndGlyphs">(&#956;&#937;cm)</text>
</g>
<text x="117.4" y="349.8" font-size="14" fill="#222" textLength="28.6" lengthAdjust="spacingAndGlyphs"><tspan font-style="italic">T</tspan> (K)</text>
<path d="M267.5 165.5v-4M267.5 14.5v4M280.5 165.5v-2.2M280.5 14.5v2.2M294.5 165.5v-4M294.5 14.5v4M307.5 165.5v-2.2M307.5 14.5v2.2M320.5 165.5v-4M320.5 14.5v4M333.5 165.5v-2.2M333.5 14.5v2.2M347.5 165.5v-4M347.5 14.5v4M360.5 165.5v-2.2M360.5 14.5v2.2M373.5 165.5v-4M373.5 14.5v4M387.5 165.5v-2.2M387.5 14.5v2.2M400.5 165.5v-4M400.5 14.5v4M413.5 165.5v-2.2M413.5 14.5v2.2M426.5 165.5v-4M426.5 14.5v4M440.5 165.5v-2.2M440.5 14.5v2.2M453.5 165.5v-4M453.5 14.5v4M267.5 165.5h2.2M453.5 165.5h-2.2M267.5 148.5h4M453.5 148.5h-4M267.5 131.5h2.2M453.5 131.5h-2.2M267.5 115.5h4M453.5 115.5h-4M267.5 98.5h2.2M453.5 98.5h-2.2M267.5 81.5h4M453.5 81.5h-4M267.5 64.5h2.2M453.5 64.5h-2.2M267.5 48.5h4M453.5 48.5h-4M267.5 31.5h2.2M453.5 31.5h-2.2M267.5 14.5h4M453.5 14.5h-4" stroke="#2a2a2a" stroke-width="1" fill="none"/>
<rect x="267.5" y="14.5" width="186" height="151" fill="none" stroke="#2a2a2a" stroke-width="1.1"/>
<text transform="translate(263.5,152.02) scale(0.92,1)" font-size="9.3" text-anchor="end" fill="#222">0.0</text>
<text transform="translate(263.5,118.47) scale(0.92,1)" font-size="9.3" text-anchor="end" fill="#222">0.2</text>
<text transform="translate(263.5,84.91) scale(0.92,1)" font-size="9.3" text-anchor="end" fill="#222">0.4</text>
<text transform="translate(263.5,51.36) scale(0.92,1)" font-size="9.3" text-anchor="end" fill="#222">0.6</text>
<text transform="translate(263.5,17.8) scale(0.92,1)" font-size="9.3" text-anchor="end" fill="#222">0.8</text>
<polyline points="267.5,148.69 268.43,148.93 269.37,149.06 270.3,149.46 271.24,149.49 272.17,149.66 273.11,149.74 274.04,149.96 274.98,149.88 275.91,150.26 276.85,150.38 277.78,150.56 278.72,150.62 279.65,150.91 280.59,150.92 281.52,151.09 282.45,151.18 283.39,151.34 284.32,151.46 285.26,151.49 286.19,151.49 287.13,151.57 288.06,151.66 289,151.74 289.93,151.91 290.87,152.12 291.8,152.26 292.74,152.37 293.67,152.45 294.61,152.55 295.54,152.62 296.47,152.73 297.41,152.87 298.34,152.9 299.28,153.02 300.21,153.03 301.15,152.94 302.08,152.91 303.02,152.98 303.95,153.02 304.89,153.13 305.82,153.17 306.76,153.26 307.69,153.33 308.63,153.3 309.56,153.17 310.49,153.3 311.43,153.3 312.36,153.27 313.3,153.33 314.23,153.55 315.17,153.6 316.1,153.67 317.04,153.67 317.97,153.61 318.91,153.5 319.84,153.47 320.78,153.41 321.71,153.49 322.65,153.47 323.58,153.5 324.52,153.53 325.45,153.55 326.38,153.5 327.32,153.5 328.25,153.43 329.19,153.26 330.12,153.36 331.06,153.43 331.99,153.5 332.93,153.56 333.86,153.62 334.8,153.49 335.73,153.5 336.67,153.45 337.6,153.38 338.54,153.39 339.47,153.32 340.4,153.18 341.34,153.13 342.27,153.13 343.21,153.07 344.14,153.06 345.08,152.99 346.01,152.97 346.95,152.91 347.88,152.88 348.82,152.77 349.75,152.65 350.69,152.54 351.62,152.52 352.56,152.51 353.49,152.49 354.42,152.49 355.36,152.46 356.29,152.37 357.23,152.3 358.16,152.21 359.1,152.17 360.03,152.01 360.97,151.91 361.9,151.76 362.84,151.79 363.77,151.68 364.71,151.63 365.64,151.63 366.58,151.6 367.51,151.45 368.44,151.46 369.38,151.4 370.31,151.2 371.25,151.15 372.18,151.04 373.12,150.95 374.05,150.88 374.99,150.94 375.92,150.73 376.86,150.63 377.79,150.45 378.73,150.4 379.66,150.13 380.6,149.98 381.53,150.02 382.46,149.85 383.4,149.6 384.33,149.56 385.27,149.65 386.2,149.38 387.14,149.36 388.07,149.39 389.01,149.38 389.94,149.17 390.88,149.07 391.81,148.99 392.75,148.81 393.68,148.7 394.62,148.58 395.55,148.51 396.48,148.38 397.42,148.31 398.35,148.07 399.29,147.97 400.22,147.83 401.16,147.7 402.09,147.57 403.03,147.48 403.96,147.39 404.9,147.27 405.83,147.19 406.77,147.22 407.7,147.09 408.64,146.85 409.57,146.75 410.51,146.63 411.44,146.38 412.37,146.33 413.31,146.35 414.24,146.33 415.18,146.24 416.11,146.18 417.05,146.04 417.98,145.94 418.92,145.73 419.85,145.6 420.79,145.36 421.72,145.25 422.66,144.99 423.59,145.02 424.53,144.93 425.46,144.82 426.39,144.57 427.33,144.61 428.26,144.38 429.2,144.24 430.13,144.1 431.07,144.16 432,143.99 432.94,143.9 433.87,143.86 434.81,143.81 435.74,143.65 436.68,143.51 437.61,143.38 438.55,143.24 439.48,143.12 440.41,143.02 441.35,142.98 442.28,142.87 443.22,142.66 444.15,142.57 445.09,142.36 446.02,142.21 446.96,142.07 447.89,142.13 448.83,142.02 449.76,142.01 450.7,141.93 451.63,141.81 452.57,141.61 453.5,141.55" fill="none" stroke="#00ffff" stroke-width="1.25" stroke-linejoin="round" stroke-linecap="round"/>
<polyline points="267.5,148.88 268.43,148.65 269.37,148.63 270.3,148.52 271.24,148.36 272.17,148.17 273.11,148.2 274.04,148.01 274.98,147.79 275.91,147.55 276.85,147.33 277.78,147.2 278.72,146.97 279.65,146.9 280.59,146.9 281.52,146.69 282.45,146.52 283.39,146.41 284.32,146.28 285.26,146.14 286.19,146.05 287.13,145.92 288.06,145.79 289,145.6 289.93,145.48 290.87,145.41 291.8,145.29 292.74,145.12 293.67,144.97 294.61,144.64 295.54,144.56 296.47,144.31 297.41,144.12 298.34,143.87 299.28,143.81 300.21,143.56 301.15,143.4 302.08,143.23 303.02,143.17 303.95,142.99 304.89,142.89 305.82,142.62 306.76,142.4 307.69,142.23 308.63,142.07 309.56,141.79 310.49,141.77 311.43,141.69 312.36,141.44 313.3,141.32 314.23,141.18 315.17,140.96 316.1,140.76 317.04,140.57 317.97,140.41 318.91,140.18 319.84,139.99 320.78,139.95 321.71,139.87 322.65,139.66 323.58,139.51 324.52,139.33 325.45,139.15 326.38,138.94 327.32,138.79 328.25,138.69 329.19,138.5 330.12,138.14 331.06,138 331.99,137.72 332.93,137.47 333.86,137.31 334.8,137.23 335.73,136.9 336.67,136.93 337.6,136.72 338.54,136.49 339.47,136.35 340.4,136.26 341.34,135.91 342.27,135.66 343.21,135.43 344.14,135.14 345.08,135.01 346.01,134.73 346.95,134.51 347.88,134.41 348.82,134.16 349.75,133.86 350.69,133.7 351.62,133.56 352.56,133.25 353.49,133.17 354.42,132.93 355.36,132.73 356.29,132.55 357.23,132.36 358.16,132.19 359.1,131.98 360.03,131.77 360.97,131.62 361.9,131.45 362.84,131.12 363.77,130.82 364.71,130.52 365.64,130.22 366.58,130.08 367.51,129.88 368.44,129.84 369.38,129.77 370.31,129.64 371.25,129.42 372.18,129.18 373.12,128.98 374.05,128.77 374.99,128.55 375.92,128.14 376.86,128 377.79,127.81 378.73,127.52 379.66,127.26 380.6,127.17 381.53,126.81 382.46,126.45 383.4,126.21 384.33,126.02 385.27,125.76 386.2,125.69 387.14,125.55 388.07,125.4 389.01,125.18 389.94,124.98 390.88,124.66 391.81,124.36 392.75,124.19 393.68,123.85 394.62,123.62 395.55,123.38 396.48,123.29 397.42,122.99 398.35,122.9 399.29,122.82 400.22,122.4 401.16,122.02 402.09,121.67 403.03,121.36 403.96,120.96 404.9,120.88 405.83,120.67 406.77,120.54 407.7,120.29 408.64,120.22 409.57,119.99 410.51,119.76 411.44,119.46 412.37,119.22 413.31,118.75 414.24,118.58 415.18,118.44 416.11,118.21 417.05,117.98 417.98,117.92 418.92,117.64 419.85,117.28 420.79,117.08 421.72,116.78 422.66,116.21 423.59,115.92 424.53,115.63 425.46,115.52 426.39,115.28 427.33,115.24 428.26,115.06 429.2,114.96 430.13,114.57 431.07,114.37 432,114.2 432.94,113.86 433.87,113.48 434.81,113.24 435.74,113 436.68,112.68 437.61,112.45 438.55,112.24 439.48,112.1 440.41,111.84 441.35,111.59 442.28,111.36 443.22,111.08 444.15,110.7 445.09,110.49 446.02,110.3 446.96,110.16 447.89,109.86 448.83,109.64 449.76,109.28 450.7,108.92 451.63,108.61 452.57,108.46 453.5,108.22" fill="none" stroke="#0000ff" stroke-width="1.25" stroke-linejoin="round" stroke-linecap="round"/>
<polyline points="267.5,148.58 268.43,148.43 269.37,148.18 270.3,148.05 271.24,147.82 272.17,147.6 273.11,147.23 274.04,146.98 274.98,146.78 275.91,146.46 276.85,146.11 277.78,145.74 278.72,145.45 279.65,145.14 280.59,144.96 281.52,144.85 282.45,144.64 283.39,144.45 284.32,144.24 285.26,143.96 286.19,143.52 287.13,143.31 288.06,143.05 289,142.77 289.93,142.46 290.87,142.3 291.8,142.11 292.74,141.81 293.67,141.46 294.61,141.13 295.54,140.94 296.47,140.68 297.41,140.46 298.34,140.4 299.28,140.32 300.21,140.05 301.15,139.69 302.08,139.4 303.02,139.1 303.95,138.75 304.89,138.46 305.82,138.38 306.76,138.15 307.69,137.84 308.63,137.68 309.56,137.4 310.49,137.18 311.43,136.91 312.36,136.56 313.3,136.2 314.23,135.89 315.17,135.43 316.1,135.07 317.04,134.95 317.97,134.7 318.91,134.62 319.84,134.48 320.78,134.43 321.71,134.05 322.65,133.76 323.58,133.41 324.52,133.01 325.45,132.69 326.38,132.49 327.32,132.31 328.25,132.1 329.19,131.93 330.12,131.52 331.06,131.34 331.99,131.04 332.93,130.73 333.86,130.39 334.8,130.23 335.73,129.87 336.67,129.63 337.6,129.35 338.54,129.28 339.47,128.97 340.4,128.84 341.34,128.61 342.27,128.33 343.21,128.04 344.14,127.86 345.08,127.45 346.01,127.2 346.95,127.04 347.88,126.9 348.82,126.71 349.75,126.56 350.69,126.33 351.62,126.07 352.56,125.61 353.49,125.33 354.42,125.03 355.36,124.7 356.29,124.43 357.23,124.21 358.16,123.78 359.1,123.46 360.03,123.31 360.97,123 361.9,122.68 362.84,122.47 363.77,122.25 364.71,121.93 365.64,121.71 366.58,121.43 367.51,121.22 368.44,120.99 369.38,120.7 370.31,120.41 371.25,120.13 372.18,119.92 373.12,119.59 374.05,119.25 374.99,118.92 375.92,118.74 376.86,118.34 377.79,118.14 378.73,117.89 379.66,117.68 380.6,117.46 381.53,117.25 382.46,116.91 383.4,116.66 384.33,116.32 385.27,115.97 386.2,115.74 387.14,115.49 388.07,115.08 389.01,114.77 389.94,114.47 390.88,114.11 391.81,113.84 392.75,113.69 393.68,113.4 394.62,113.11 395.55,112.95 396.48,112.69 397.42,112.36 398.35,112.11 399.29,111.71 400.22,111.36 401.16,110.96 402.09,110.64 403.03,110.36 403.96,110.08 404.9,109.71 405.83,109.5 406.77,109.16 407.7,108.92 408.64,108.67 409.57,108.39 410.51,108 411.44,107.8 412.37,107.42 413.31,107.13 414.24,106.75 415.18,106.52 416.11,106.15 417.05,105.85 417.98,105.61 418.92,105.19 419.85,104.83 420.79,104.6 421.72,104.18 422.66,103.85 423.59,103.66 424.53,103.28 425.46,102.91 426.39,102.69 427.33,102.33 428.26,102.03 429.2,101.85 430.13,101.56 431.07,101.21 432,100.78 432.94,100.39 433.87,99.86 434.81,99.4 435.74,99.08 436.68,98.81 437.61,98.63 438.55,98.45 439.48,98.21 440.41,97.82 441.35,97.42 442.28,96.98 443.22,96.61 444.15,96.29 445.09,95.96 446.02,95.63 446.96,95.22 447.89,94.87 448.83,94.3 449.76,93.86 450.7,93.52 451.63,93.21 452.57,92.8 453.5,92.55" fill="none" stroke="#11ee11" stroke-width="1.25" stroke-linejoin="round" stroke-linecap="round"/>
<polyline points="267.5,148.75 268.43,148.24 269.37,147.79 270.3,147.42 271.24,147.02 272.17,146.45 273.11,146 274.04,145.57 274.98,144.97 275.91,144.46 276.85,144 277.78,143.53 278.72,143.06 279.65,142.6 280.59,142.16 281.52,141.61 282.45,141.12 283.39,140.57 284.32,140.17 285.26,139.66 286.19,139.27 287.13,138.91 288.06,138.3 289,137.74 289.93,137.16 290.87,136.76 291.8,136.11 292.74,135.85 293.67,135.43 294.61,135.02 295.54,134.47 296.47,134.23 297.41,133.74 298.34,133.17 299.28,132.59 300.21,132.06 301.15,131.45 302.08,130.85 303.02,130.49 303.95,130.1 304.89,129.75 305.82,129.25 306.76,128.82 307.69,128.22 308.63,127.78 309.56,127.14 310.49,126.67 311.43,126.12 312.36,125.64 313.3,125.24 314.23,124.82 315.17,124.32 316.1,123.92 317.04,123.47 317.97,122.96 318.91,122.43 319.84,121.91 320.78,121.35 321.71,120.72 322.65,120.12 323.58,119.65 324.52,119.23 325.45,118.74 326.38,118.45 327.32,117.9 328.25,117.44 329.19,116.89 330.12,116.29 331.06,115.66 331.99,115.23 332.93,114.6 333.86,114.11 334.8,113.68 335.73,113.25 336.67,112.82 337.6,112.37 338.54,111.81 339.47,111.37 340.4,110.93 341.34,110.4 342.27,110.07 343.21,109.65 344.14,109.19 345.08,108.49 346.01,107.98 346.95,107.42 347.88,106.82 348.82,106.25 349.75,105.86 350.69,105.3 351.62,104.68 352.56,104.24 353.49,103.66 354.42,103.11 355.36,102.63 356.29,102.14 357.23,101.65 358.16,101.18 359.1,100.64 360.03,100.05 360.97,99.48 361.9,98.91 362.84,98.31 363.77,97.84 364.71,97.35 365.64,96.88 366.58,96.34 367.51,95.93 368.44,95.26 369.38,94.71 370.31,94.26 371.25,93.76 372.18,93.3 373.12,92.83 374.05,92.24 374.99,91.63 375.92,91.03 376.86,90.43 377.79,89.92 378.73,89.36 379.66,88.81 380.6,88.38 381.53,87.78 382.46,87.24 383.4,86.76 384.33,86.13 385.27,85.55 386.2,85.17 387.14,84.59 388.07,84.11 389.01,83.69 389.94,83.17 390.88,82.44 391.81,81.94 392.75,81.34 393.68,80.66 394.62,80.08 395.55,79.66 396.48,79.16 397.42,78.69 398.35,78.2 399.29,77.65 400.22,77.02 401.16,76.44 402.09,75.81 403.03,75.19 403.96,74.49 404.9,73.83 405.83,73.23 406.77,72.64 407.7,72.14 408.64,71.6 409.57,71.03 410.51,70.5 411.44,69.89 412.37,69.31 413.31,68.8 414.24,68.31 415.18,67.72 416.11,67.13 417.05,66.62 417.98,66.07 418.92,65.5 419.85,64.96 420.79,64.41 421.72,63.82 422.66,63.19 423.59,62.68 424.53,62.04 425.46,61.44 426.39,60.62 427.33,59.96 428.26,59.18 429.2,58.58 430.13,57.88 431.07,57.43 432,56.91 432.94,56.49 433.87,55.88 434.81,55.34 435.74,54.76 436.68,54.16 437.61,53.5 438.55,52.93 439.48,52.42 440.41,51.85 441.35,51.13 442.28,50.61 443.22,50.03 444.15,49.36 445.09,48.6 446.02,48.08 446.96,47.35 447.89,46.67 448.83,46.09 449.76,45.47 450.7,44.86 451.63,44.28 452.57,43.66 453.5,43.01" fill="none" stroke="#000000" stroke-width="1.25" stroke-linejoin="round" stroke-linecap="round"/>
<polyline points="267.5,148.57 268.43,147.8 269.37,147.01 270.3,146.17 271.24,145.43 272.17,144.84 273.11,144.05 274.04,143.32 274.98,142.72 275.91,141.93 276.85,141.16 277.78,140.39 278.72,139.73 279.65,138.96 280.59,138.14 281.52,137.27 282.45,136.67 283.39,135.81 284.32,135.1 285.26,134.5 286.19,133.95 287.13,133.17 288.06,132.44 289,131.63 289.93,130.87 290.87,130.14 291.8,129.42 292.74,128.79 293.67,128.09 294.61,127.45 295.54,126.74 296.47,126.06 297.41,125.38 298.34,124.74 299.28,124.01 300.21,123.26 301.15,122.59 302.08,121.83 303.02,121.2 303.95,120.58 304.89,119.99 305.82,119.31 306.76,118.74 307.69,117.99 308.63,117.24 309.56,116.57 310.49,115.97 311.43,115.35 312.36,114.71 313.3,114.13 314.23,113.6 315.17,112.99 316.1,112.39 317.04,111.78 317.97,111.17 318.91,110.33 319.84,109.63 320.78,108.97 321.71,108.44 322.65,107.76 323.58,107.3 324.52,106.78 325.45,106.14 326.38,105.5 327.32,104.88 328.25,104.27 329.19,103.79 330.12,103.17 331.06,102.69 331.99,102.07 332.93,101.35 333.86,100.61 334.8,100.13 335.73,99.51 336.67,98.96 337.6,98.49 338.54,97.91 339.47,97.27 340.4,96.47 341.34,95.92 342.27,95.28 343.21,94.61 344.14,93.95 345.08,93.43 346.01,92.92 346.95,92.39 347.88,91.91 348.82,91.44 349.75,90.86 350.69,90.27 351.62,89.68 352.56,89.11 353.49,88.53 354.42,87.97 355.36,87.4 356.29,86.85 357.23,86.21 358.16,85.57 359.1,85 360.03,84.4 360.97,83.9 361.9,83.33 362.84,82.76 363.77,82.18 364.71,81.67 365.64,80.85 366.58,80.39 367.51,79.81 368.44,79.3 369.38,78.72 370.31,78.25 371.25,77.63 372.18,77.25 373.12,76.75 374.05,76.13 374.99,75.48 375.92,74.98 376.86,74.28 377.79,73.55 378.73,72.98 379.66,72.57 380.6,72 381.53,71.53 382.46,71.1 383.4,70.59 384.33,70.13 385.27,69.58 386.2,68.88 387.14,68.29 388.07,67.74 389.01,67.06 389.94,66.43 390.88,65.82 391.81,65.13 392.75,64.38 393.68,63.74 394.62,63.07 395.55,62.46 396.48,61.87 397.42,61.33 398.35,60.72 399.29,60.22 400.22,59.82 401.16,59.29 402.09,58.8 403.03,58.29 403.96,57.72 404.9,57.12 405.83,56.49 406.77,55.87 407.7,55.34 408.64,54.67 409.57,53.98 410.51,53.43 411.44,52.73 412.37,52.07 413.31,51.57 414.24,50.98 415.18,50.45 416.11,49.95 417.05,49.32 417.98,48.62 418.92,48.04 419.85,47.37 420.79,46.82 421.72,46.18 422.66,45.6 423.59,45.02 424.53,44.39 425.46,43.78 426.39,43.09 427.33,42.42 428.26,41.7 429.2,41.09 430.13,40.41 431.07,40.01 432,39.32 432.94,38.76 433.87,38.06 434.81,37.45 435.74,36.67 436.68,36.11 437.61,35.47 438.55,34.88 439.48,34.15 440.41,33.51 441.35,32.91 442.28,32.21 443.22,31.52 444.15,30.81 445.09,30.06 446.02,29.29 446.96,28.63 447.89,27.91 448.83,27.29 449.76,26.67 450.7,25.94 451.63,25.15 452.57,24.51 453.5,23.81" fill="none" stroke="#ff0000" stroke-width="1.25" stroke-linejoin="round" stroke-linecap="round"/>
<text x="280.4" y="31.8" font-size="11.5" text-anchor="start" fill="#222" font-weight="normal" font-style="normal" textLength="46.3" lengthAdjust="spacingAndGlyphs"><tspan font-style="italic">T</tspan> = 2.5 K</text>
<text transform="translate(265.7,10.9) scale(0.92,1)" font-size="15.5" font-weight="bold" fill="#111">c</text>
<text transform="translate(242.1,85.2) rotate(-90)" font-size="12.5" text-anchor="middle" fill="#222">[<tspan font-style="italic">&#961;</tspan>(<tspan font-style="italic">H</tspan>)/<tspan font-style="italic">&#961;</tspan>(0)]-1</text>
<path d="M267.5 320.5v-4M267.5 169.5v4M280.5 320.5v-2.2M280.5 169.5v2.2M294.5 320.5v-4M294.5 169.5v4M307.5 320.5v-2.2M307.5 169.5v2.2M320.5 320.5v-4M320.5 169.5v4M333.5 320.5v-2.2M333.5 169.5v2.2M347.5 320.5v-4M347.5 169.5v4M360.5 320.5v-2.2M360.5 169.5v2.2M373.5 320.5v-4M373.5 169.5v4M387.5 320.5v-2.2M387.5 169.5v2.2M400.5 320.5v-4M400.5 169.5v4M413.5 320.5v-2.2M413.5 169.5v2.2M426.5 320.5v-4M426.5 169.5v4M440.5 320.5v-2.2M440.5 169.5v2.2M453.5 320.5v-4M453.5 169.5v4M267.5 320.5h4M453.5 320.5h-4M267.5 311.5h2.2M453.5 311.5h-2.2M267.5 301.5h4M453.5 301.5h-4M267.5 292.5h2.2M453.5 292.5h-2.2M267.5 282.5h4M453.5 282.5h-4M267.5 273.5h2.2M453.5 273.5h-2.2M267.5 263.5h4M453.5 263.5h-4M267.5 254.5h2.2M453.5 254.5h-2.2M267.5 245.5h4M453.5 245.5h-4M267.5 235.5h2.2M453.5 235.5h-2.2M267.5 226.5h4M453.5 226.5h-4M267.5 216.5h2.2M453.5 216.5h-2.2M267.5 207.5h4M453.5 207.5h-4M267.5 197.5h2.2M453.5 197.5h-2.2M267.5 188.5h4M453.5 188.5h-4M267.5 178.5h2.2M453.5 178.5h-2.2M267.5 169.5h4M453.5 169.5h-4" stroke="#2a2a2a" stroke-width="1" fill="none"/>
<rect x="267.5" y="169.5" width="186" height="151" fill="none" stroke="#2a2a2a" stroke-width="1.1"/>
<text transform="translate(263.5,323.8) scale(0.92,1)" font-size="9.3" text-anchor="end" fill="#222">-0.2</text>
<text transform="translate(263.5,304.93) scale(0.92,1)" font-size="9.3" text-anchor="end" fill="#222">-0.1</text>
<text transform="translate(263.5,286.05) scale(0.92,1)" font-size="9.3" text-anchor="end" fill="#222">0.0</text>
<text transform="translate(263.5,267.18) scale(0.92,1)" font-size="9.3" text-anchor="end" fill="#222">0.1</text>
<text transform="translate(263.5,248.3) scale(0.92,1)" font-size="9.3" text-anchor="end" fill="#222">0.2</text>
<text transform="translate(263.5,229.43) scale(0.92,1)" font-size="9.3" text-anchor="end" fill="#222">0.3</text>
<text transform="translate(263.5,210.55) scale(0.92,1)" font-size="9.3" text-anchor="end" fill="#222">0.4</text>
<text transform="translate(263.5,191.68) scale(0.92,1)" font-size="9.3" text-anchor="end" fill="#222">0.5</text>
<text transform="translate(263.5,172.8) scale(0.92,1)" font-size="9.3" text-anchor="end" fill="#222">0.6</text>
<text transform="translate(267.5,332.1) scale(0.92,1)" font-size="9.3" text-anchor="middle" fill="#222">0</text>
<text transform="translate(294.07,332.1) scale(0.92,1)" font-size="9.3" text-anchor="middle" fill="#222">2</text>
<text transform="translate(320.64,332.1) scale(0.92,1)" font-size="9.3" text-anchor="middle" fill="#222">4</text>
<text transform="translate(347.21,332.1) scale(0.92,1)" font-size="9.3" text-anchor="middle" fill="#222">6</text>
<text transform="translate(373.79,332.1) scale(0.92,1)" font-size="9.3" text-anchor="middle" fill="#222">8</text>
<text transform="translate(400.36,332.1) scale(0.92,1)" font-size="9.3" text-anchor="middle" fill="#222">10</text>
<text transform="translate(426.93,332.1) scale(0.92,1)" font-size="9.3" text-anchor="middle" fill="#222">12</text>
<text transform="translate(453.5,332.1) scale(0.92,1)" font-size="9.3" text-anchor="middle" fill="#222">14</text>
<polyline points="267.5,282.71 268.43,282.17 269.37,282.07 270.3,283.07 271.24,285.14 272.17,287.37 273.11,288.84 274.04,290.19 274.98,291.47 275.91,292.65 276.85,293.75 277.78,294.77 278.72,295.72 279.65,296.55 280.59,297.19 281.52,297.73 282.45,298.28 283.39,298.73 284.32,299.07 285.26,299.52 286.19,299.94 287.13,300.22 288.06,300.49 289,300.85 289.93,301.1 290.87,301.46 291.8,301.82 292.74,302.16 293.67,302.46 294.61,302.79 295.54,303.03 296.47,303.29 297.41,303.5 298.34,303.72 299.28,303.9 300.21,304.02 301.15,304.25 302.08,304.35 303.02,304.51 303.95,304.72 304.89,304.93 305.82,304.99 306.76,305.12 307.69,305.28 308.63,305.32 309.56,305.39 310.49,305.55 311.43,305.71 312.36,305.67 313.3,305.67 314.23,305.64 315.17,305.55 316.1,305.5 317.04,305.53 317.97,305.52 318.91,305.62 319.84,305.67 320.78,305.68 321.71,305.76 322.65,305.77 323.58,305.77 324.52,305.78 325.45,305.71 326.38,305.68 327.32,305.77 328.25,305.66 329.19,305.71 330.12,305.83 331.06,305.77 331.99,305.73 332.93,305.78 333.86,305.71 334.8,305.62 335.73,305.59 336.67,305.57 337.6,305.62 338.54,305.65 339.47,305.78 340.4,305.77 341.34,305.86 342.27,305.76 343.21,305.62 344.14,305.55 345.08,305.59 346.01,305.5 346.95,305.47 347.88,305.56 348.82,305.49 349.75,305.45 350.69,305.41 351.62,305.35 352.56,305.33 353.49,305.29 354.42,305.23 355.36,305.15 356.29,305.24 357.23,305.12 358.16,305.08 359.1,305.03 360.03,305.04 360.97,305.04 361.9,305.1 362.84,305.06 363.77,305.07 364.71,305.05 365.64,304.87 366.58,304.71 367.51,304.72 368.44,304.61 369.38,304.66 370.31,304.8 371.25,304.82 372.18,304.79 373.12,304.8 374.05,304.64 374.99,304.46 375.92,304.34 376.86,304.17 377.79,304.09 378.73,303.92 379.66,303.71 380.6,303.45 381.53,303.32 382.46,303.06 383.4,302.92 384.33,302.79 385.27,302.68 386.2,302.54 387.14,302.52 388.07,302.5 389.01,302.5 389.94,302.67 390.88,302.76 391.81,302.75 392.75,302.81 393.68,302.95 394.62,303.02 395.55,303.11 396.48,303.34 397.42,303.42 398.35,303.47 399.29,303.49 400.22,303.57 401.16,303.54 402.09,303.53 403.03,303.49 403.96,303.45 404.9,303.27 405.83,303.1 406.77,303.04 407.7,302.96 408.64,302.86 409.57,302.83 410.51,302.73 411.44,302.59 412.37,302.48 413.31,302.44 414.24,302.41 415.18,302.45 416.11,302.51 417.05,302.54 417.98,302.56 418.92,302.53 419.85,302.51 420.79,302.48 421.72,302.48 422.66,302.52 423.59,302.58 424.53,302.75 425.46,302.85 426.39,303 427.33,303.09 428.26,303.22 429.2,303.22 430.13,303.29 431.07,303.3 432,303.35 432.94,303.32 433.87,303.4 434.81,303.33 435.74,303.31 436.68,303.2 437.61,303.16 438.55,303.1 439.48,303.15 440.41,303.07 441.35,302.93 442.28,302.88 443.22,302.75 444.15,302.59 445.09,302.56 446.02,302.56 446.96,302.36 447.89,302.14 448.83,301.95 449.76,301.57 450.7,301.26 451.63,300.97 452.57,300.7 453.5,300.41" fill="none" stroke="#00ffff" stroke-width="1.25" stroke-linejoin="round" stroke-linecap="round"/>
<polyline points="267.5,282.75 268.43,282.16 269.37,282.04 270.3,283.33 271.24,285.95 272.17,288.75 273.11,290.39 274.04,291.46 274.98,292.48 275.91,293.42 276.85,294.23 277.78,295.01 278.72,295.76 279.65,296.32 280.59,296.78 281.52,297.29 282.45,297.68 283.39,298.06 284.32,298.38 285.26,298.75 286.19,298.98 287.13,299.19 288.06,299.53 289,299.86 289.93,300.1 290.87,300.33 291.8,300.53 292.74,300.57 293.67,300.54 294.61,300.52 295.54,300.47 296.47,300.43 297.41,300.45 298.34,300.45 299.28,300.52 300.21,300.58 301.15,300.57 302.08,300.6 303.02,300.61 303.95,300.52 304.89,300.33 305.82,300.19 306.76,300.03 307.69,299.87 308.63,299.7 309.56,299.48 310.49,299.46 311.43,299.25 312.36,299.05 313.3,298.84 314.23,298.83 315.17,298.42 316.1,298.21 317.04,298.04 317.97,297.88 318.91,297.67 319.84,297.57 320.78,297.42 321.71,297.17 322.65,296.95 323.58,296.7 324.52,296.46 325.45,296.21 326.38,296.02 327.32,295.88 328.25,295.6 329.19,295.45 330.12,295.29 331.06,295.07 331.99,294.74 332.93,294.49 333.86,294.26 334.8,293.89 335.73,293.53 336.67,293.27 337.6,293.04 338.54,292.68 339.47,292.45 340.4,292.27 341.34,292 342.27,291.68 343.21,291.32 344.14,290.9 345.08,290.58 346.01,290.31 346.95,290.02 347.88,289.8 348.82,289.62 349.75,289.38 350.69,289.15 351.62,289.02 352.56,288.81 353.49,288.67 354.42,288.57 355.36,288.35 356.29,288.28 357.23,288.23 358.16,288.14 359.1,288.06 360.03,288.06 360.97,287.9 361.9,287.79 362.84,287.71 363.77,287.57 364.71,287.46 365.64,287.38 366.58,287.12 367.51,287 368.44,286.76 369.38,286.58 370.31,286.29 371.25,286.14 372.18,285.84 373.12,285.65 374.05,285.39 374.99,285.1 375.92,284.91 376.86,284.69 377.79,284.3 378.73,283.9 379.66,283.7 380.6,283.45 381.53,283.25 382.46,283.18 383.4,283.15 384.33,283.11 385.27,283.04 386.2,282.9 387.14,282.91 388.07,282.85 389.01,282.7 389.94,282.51 390.88,282.44 391.81,282.29 392.75,282.09 393.68,282.06 394.62,282.09 395.55,282 396.48,281.89 397.42,281.9 398.35,281.91 399.29,281.79 400.22,281.73 401.16,281.72 402.09,281.64 403.03,281.37 403.96,281.31 404.9,281.28 405.83,281.25 406.77,281.07 407.7,280.86 408.64,280.49 409.57,280.02 410.51,279.4 411.44,278.8 412.37,278.16 413.31,277.59 414.24,276.9 415.18,276.34 416.11,275.96 417.05,275.49 417.98,275.14 418.92,274.93 419.85,274.67 420.79,274.34 421.72,274.22 422.66,274.01 423.59,273.8 424.53,273.8 425.46,273.69 426.39,273.55 427.33,273.37 428.26,273.29 429.2,273.15 430.13,273.06 431.07,272.95 432,272.94 432.94,272.86 433.87,272.73 434.81,272.6 435.74,272.4 436.68,272.17 437.61,271.99 438.55,271.77 439.48,271.53 440.41,271.29 441.35,271.1 442.28,270.78 443.22,270.52 444.15,270.37 445.09,270.2 446.02,269.89 446.96,269.62 447.89,269.31 448.83,268.93 449.76,268.53 450.7,268.21 451.63,267.92 452.57,267.56 453.5,267.18" fill="none" stroke="#0000ff" stroke-width="1.25" stroke-linejoin="round" stroke-linecap="round"/>
<polyline points="267.5,282.75 268.43,282.4 269.37,282.29 270.3,284.36 271.24,288.98 272.17,293.69 273.11,296.28 274.04,298.03 274.98,299.5 275.91,300.8 276.85,301.77 277.78,302.59 278.72,303.05 279.65,303.5 280.59,303.91 281.52,304.29 282.45,304.66 283.39,305.07 284.32,305.45 285.26,305.68 286.19,305.96 287.13,306.2 288.06,306.31 289,306.29 289.93,306.4 290.87,306.39 291.8,306.18 292.74,306.11 293.67,305.94 294.61,305.59 295.54,305.41 296.47,305.27 297.41,304.96 298.34,304.72 299.28,304.55 300.21,304.34 301.15,304.07 302.08,303.74 303.02,303.41 303.95,302.98 304.89,302.5 305.82,302.03 306.76,301.49 307.69,301.01 308.63,300.63 309.56,300.14 310.49,299.67 311.43,299.26 312.36,298.75 313.3,298.23 314.23,297.74 315.17,297.24 316.1,296.69 317.04,296.08 317.97,295.53 318.91,294.94 319.84,294.34 320.78,293.87 321.71,293.41 322.65,292.86 323.58,292.4 324.52,291.87 325.45,291.22 326.38,290.54 327.32,289.9 328.25,289.19 329.19,288.48 330.12,287.75 331.06,287.18 331.99,286.55 332.93,285.9 333.86,285.26 334.8,284.75 335.73,284.05 336.67,283.43 337.6,282.78 338.54,282.22 339.47,281.6 340.4,280.98 341.34,280.4 342.27,279.86 343.21,279.22 344.14,278.58 345.08,278.03 346.01,277.51 346.95,276.88 347.88,276.36 348.82,275.88 349.75,275.47 350.69,274.84 351.62,274.33 352.56,273.89 353.49,273.42 354.42,272.97 355.36,272.62 356.29,272.36 357.23,272.04 358.16,271.72 359.1,271.3 360.03,270.88 360.97,270.38 361.9,269.82 362.84,269.27 363.77,268.65 364.71,268.08 365.64,267.42 366.58,266.85 367.51,266.19 368.44,265.54 369.38,264.92 370.31,264.27 371.25,263.45 372.18,262.75 373.12,262.08 374.05,261.29 374.99,260.46 375.92,259.6 376.86,258.64 377.79,257.66 378.73,256.67 379.66,255.81 380.6,255.1 381.53,254.59 382.46,254.21 383.4,254 384.33,253.88 385.27,253.66 386.2,253.56 387.14,253.44 388.07,253.4 389.01,253.24 389.94,253.17 390.88,252.99 391.81,252.91 392.75,252.8 393.68,252.73 394.62,252.58 395.55,252.48 396.48,252.25 397.42,251.99 398.35,251.76 399.29,251.46 400.22,251.04 401.16,250.49 402.09,249.83 403.03,249.09 403.96,248.25 404.9,247.28 405.83,246.39 406.77,245.58 407.7,244.67 408.64,243.89 409.57,243.16 410.51,242.33 411.44,241.58 412.37,240.85 413.31,240.02 414.24,239.19 415.18,238.45 416.11,237.65 417.05,236.87 417.98,236.12 418.92,235.32 419.85,234.55 420.79,233.82 421.72,233.1 422.66,232.39 423.59,231.85 424.53,231.34 425.46,230.71 426.39,230.2 427.33,229.67 428.26,229.07 429.2,228.61 430.13,228.13 431.07,227.61 432,227.19 432.94,226.75 433.87,226.25 434.81,225.85 435.74,225.42 436.68,224.96 437.61,224.55 438.55,224.11 439.48,223.62 440.41,223.17 441.35,222.69 442.28,222.23 443.22,221.73 444.15,221.27 445.09,220.66 446.02,220.08 446.96,219.49 447.89,218.83 448.83,218.12 449.76,217.36 450.7,216.55 451.63,215.59 452.57,214.7 453.5,213.77" fill="none" stroke="#11ee11" stroke-width="1.25" stroke-linejoin="round" stroke-linecap="round"/>
<polyline points="267.5,282.67 268.43,281.94 269.37,281.82 270.3,282.27 271.24,283.63 272.17,284.8 273.11,285.61 274.04,286.19 274.98,286.82 275.91,287.18 276.85,287.52 277.78,287.71 278.72,288 279.65,288.18 280.59,288.32 281.52,288.39 282.45,288.56 283.39,288.72 284.32,288.86 285.26,288.87 286.19,288.82 287.13,288.67 288.06,288.49 289,288.33 289.93,288.14 290.87,287.94 291.8,287.78 292.74,287.51 293.67,287.29 294.61,287.09 295.54,286.82 296.47,286.63 297.41,286.42 298.34,286.16 299.28,285.97 300.21,285.91 301.15,285.7 302.08,285.5 303.02,285.3 303.95,285.1 304.89,284.81 305.82,284.63 306.76,284.31 307.69,284.1 308.63,283.79 309.56,283.5 310.49,283.23 311.43,283.13 312.36,282.98 313.3,282.88 314.23,282.72 315.17,282.48 316.1,282.22 317.04,281.9 317.97,281.46 318.91,281.19 319.84,281 320.78,280.68 321.71,280.44 322.65,280.41 323.58,280.16 324.52,279.87 325.45,279.62 326.38,279.22 327.32,278.83 328.25,278.59 329.19,278.2 330.12,278 331.06,277.84 331.99,277.48 332.93,277.06 333.86,276.84 334.8,276.46 335.73,276.07 336.67,275.79 337.6,275.52 338.54,275.19 339.47,274.87 340.4,274.57 341.34,274.25 342.27,273.91 343.21,273.55 344.14,273.13 345.08,272.8 346.01,272.36 346.95,271.89 347.88,271.49 348.82,271.15 349.75,270.65 350.69,270.25 351.62,269.91 352.56,269.42 353.49,268.95 354.42,268.59 355.36,268.11 356.29,267.68 357.23,267.3 358.16,266.91 359.1,266.4 360.03,266.02 360.97,265.5 361.9,264.95 362.84,264.33 363.77,263.84 364.71,263.25 365.64,262.7 366.58,262.17 367.51,261.64 368.44,261.04 369.38,260.61 370.31,260.15 371.25,259.66 372.18,259.14 373.12,258.58 374.05,258.12 374.99,257.54 375.92,257 376.86,256.38 377.79,255.88 378.73,255.22 379.66,254.66 380.6,254.06 381.53,253.66 382.46,253.15 383.4,252.56 384.33,252 385.27,251.48 386.2,250.78 387.14,250.24 388.07,249.72 389.01,249.21 389.94,248.64 390.88,248.19 391.81,247.56 392.75,246.89 393.68,246.29 394.62,245.74 395.55,245.08 396.48,244.51 397.42,243.98 398.35,243.49 399.29,243 400.22,242.62 401.16,242.14 402.09,241.78 403.03,241.13 403.96,240.53 404.9,239.87 405.83,239.27 406.77,238.64 407.7,238.18 408.64,237.71 409.57,237.12 410.51,236.6 411.44,235.97 412.37,235.39 413.31,234.84 414.24,234.39 415.18,233.85 416.11,233.41 417.05,232.93 417.98,232.33 418.92,231.8 419.85,231.28 420.79,230.71 421.72,230.14 422.66,229.62 423.59,229.03 424.53,228.47 425.46,227.93 426.39,227.42 427.33,226.83 428.26,226.42 429.2,225.82 430.13,225.36 431.07,224.81 432,224.39 432.94,223.82 433.87,223.38 434.81,222.88 435.74,222.45 436.68,221.91 437.61,221.31 438.55,220.88 439.48,220.32 440.41,219.67 441.35,219.1 442.28,218.51 443.22,217.93 444.15,217.36 445.09,216.81 446.02,216.17 446.96,215.58 447.89,214.7 448.83,213.9 449.76,213.03 450.7,212.11 451.63,211.2 452.57,210.31 453.5,209.34" fill="none" stroke="#000000" stroke-width="1.25" stroke-linejoin="round" stroke-linecap="round"/>
<polyline points="267.5,282.76 268.43,282.28 269.37,282.2 270.3,283.15 271.24,285.18 272.17,287.33 273.11,288.61 274.04,289.24 274.98,289.7 275.91,290.06 276.85,290.29 277.78,290.43 278.72,290.45 279.65,290.39 280.59,290.35 281.52,290.23 282.45,290.12 283.39,289.97 284.32,289.87 285.26,289.76 286.19,289.67 287.13,289.59 288.06,289.41 289,289.33 289.93,289.16 290.87,288.9 291.8,288.55 292.74,288.25 293.67,287.98 294.61,287.71 295.54,287.54 296.47,287.38 297.41,287.11 298.34,286.74 299.28,286.35 300.21,285.97 301.15,285.57 302.08,285.12 303.02,284.69 303.95,284.35 304.89,283.87 305.82,283.46 306.76,283.15 307.69,282.69 308.63,282.26 309.56,281.9 310.49,281.45 311.43,280.93 312.36,280.47 313.3,279.97 314.23,279.41 315.17,278.99 316.1,278.6 317.04,278.14 317.97,277.67 318.91,277.25 319.84,276.67 320.78,276.13 321.71,275.67 322.65,275.22 323.58,274.75 324.52,274.29 325.45,273.8 326.38,273.39 327.32,272.87 328.25,272.31 329.19,271.79 330.12,271.23 331.06,270.69 331.99,270.33 332.93,269.9 333.86,269.48 334.8,269.19 335.73,268.85 336.67,268.34 337.6,267.97 338.54,267.58 339.47,267.19 340.4,266.73 341.34,266.35 342.27,266.06 343.21,265.7 344.14,265.32 345.08,264.89 346.01,264.53 346.95,264.16 347.88,263.75 348.82,263.36 349.75,263.09 350.69,262.75 351.62,262.23 352.56,261.95 353.49,261.59 354.42,261.11 355.36,260.66 356.29,260.27 357.23,259.68 358.16,259.16 359.1,258.71 360.03,258.15 360.97,257.58 361.9,256.99 362.84,256.43 363.77,255.72 364.71,255.13 365.64,254.46 366.58,253.81 367.51,253.1 368.44,252.57 369.38,251.85 370.31,251.26 371.25,250.75 372.18,250.23 373.12,249.67 374.05,249.19 374.99,248.59 375.92,248.06 376.86,247.51 377.79,247.03 378.73,246.53 379.66,246.2 380.6,245.81 381.53,245.39 382.46,244.97 383.4,244.57 384.33,244.16 385.27,243.76 386.2,243.36 387.14,242.92 388.07,242.68 389.01,242.3 389.94,241.9 390.88,241.56 391.81,241.15 392.75,240.64 393.68,240.26 394.62,239.9 395.55,239.47 396.48,239.2 397.42,238.8 398.35,238.39 399.29,237.94 400.22,237.54 401.16,237.07 402.09,236.63 403.03,236.12 403.96,235.64 404.9,235.05 405.83,234.46 406.77,233.92 407.7,233.36 408.64,232.78 409.57,232.28 410.51,231.67 411.44,231.02 412.37,230.52 413.31,229.92 414.24,229.39 415.18,228.86 416.11,228.35 417.05,227.83 417.98,227.47 418.92,226.95 419.85,226.51 420.79,226.04 421.72,225.37 422.66,224.72 423.59,224.18 424.53,223.72 425.46,223.21 426.39,222.9 427.33,222.56 428.26,222.2 429.2,221.75 430.13,221.43 431.07,220.94 432,220.47 432.94,220.14 433.87,219.86 434.81,219.4 435.74,219.04 436.68,218.63 437.61,218.21 438.55,217.75 439.48,217.36 440.41,217.01 441.35,216.63 442.28,216.15 443.22,215.63 444.15,215.26 445.09,214.8 446.02,214.33 446.96,213.92 447.89,213.44 448.83,212.95 449.76,212.4 450.7,211.91 451.63,211.29 452.57,210.8 453.5,210.21" fill="none" stroke="#ff0000" stroke-width="1.25" stroke-linejoin="round" stroke-linecap="round"/>
<g transform="translate(242.6,280.6) rotate(-90)">
<g transform="scale(0.93)" fill="none" stroke="#222" stroke-width="1.15" stroke-linecap="round"><ellipse cx="5.9" cy="-3.1" rx="4.0" ry="2.45" transform="rotate(-48 5.9 -3.1)"/><path d="M3.3,-1.2 L0.6,3.5"/></g>
<text x="7.4" y="3.6" font-size="9.6" font-style="italic" fill="#222">xy</text>
<text x="20.6" y="0" font-size="13" fill="#222" textLength="42.6" lengthAdjust="spacingAndGlyphs">(&#956;&#937;cm)</text>
</g>
<text x="340" y="347.4" font-size="13" fill="#222"><tspan font-style="italic">&#956;</tspan><tspan font-size="9.5" dy="3.6">0</tspan><tspan dy="-3.6" font-style="italic">H</tspan> (T)</text>
<path d="M488.5 164.5v-4M488.5 14.5v4M502.5 164.5v-2.2M502.5 14.5v2.2M515.5 164.5v-4M515.5 14.5v4M529.5 164.5v-2.2M529.5 14.5v2.2M543.5 164.5v-4M543.5 14.5v4M557.5 164.5v-2.2M557.5 14.5v2.2M570.5 164.5v-4M570.5 14.5v4M584.5 164.5v-2.2M584.5 14.5v2.2M598.5 164.5v-4M598.5 14.5v4M611.5 164.5v-2.2M611.5 14.5v2.2M625.5 164.5v-4M625.5 14.5v4M639.5 164.5v-2.2M639.5 14.5v2.2M653.5 164.5v-4M653.5 14.5v4M666.5 164.5v-2.2M666.5 14.5v2.2M680.5 164.5v-4M680.5 14.5v4M488.5 164.5h2.2M680.5 164.5h-2.2M488.5 155.5h4M680.5 155.5h-4M488.5 146.5h2.2M680.5 146.5h-2.2M488.5 138.5h4M680.5 138.5h-4M488.5 129.5h2.2M680.5 129.5h-2.2M488.5 120.5h4M680.5 120.5h-4M488.5 111.5h2.2M680.5 111.5h-2.2M488.5 102.5h4M680.5 102.5h-4M488.5 93.5h2.2M680.5 93.5h-2.2M488.5 85.5h4M680.5 85.5h-4M488.5 76.5h2.2M680.5 76.5h-2.2M488.5 67.5h4M680.5 67.5h-4M488.5 58.5h2.2M680.5 58.5h-2.2M488.5 49.5h4M680.5 49.5h-4M488.5 40.5h2.2M680.5 40.5h-2.2M488.5 32.5h4M680.5 32.5h-4M488.5 23.5h2.2M680.5 23.5h-2.2M488.5 14.5h4M680.5 14.5h-4" stroke="#2a2a2a" stroke-width="1" fill="none"/>
<rect x="488.5" y="14.5" width="192" height="150" fill="none" stroke="#2a2a2a" stroke-width="1.1"/>
<text transform="translate(484.5,158.98) scale(0.92,1)" font-size="9.3" text-anchor="end" fill="#222">4</text>
<text transform="translate(484.5,141.33) scale(0.92,1)" font-size="9.3" text-anchor="end" fill="#222">5</text>
<text transform="translate(484.5,123.68) scale(0.92,1)" font-size="9.3" text-anchor="end" fill="#222">6</text>
<text transform="translate(484.5,106.04) scale(0.92,1)" font-size="9.3" text-anchor="end" fill="#222">7</text>
<text transform="translate(484.5,88.39) scale(0.92,1)" font-size="9.3" text-anchor="end" fill="#222">8</text>
<text transform="translate(484.5,70.74) scale(0.92,1)" font-size="9.3" text-anchor="end" fill="#222">9</text>
<text transform="translate(484.5,53.1) scale(0.92,1)" font-size="9.3" text-anchor="end" fill="#222">10</text>
<text transform="translate(484.5,35.45) scale(0.92,1)" font-size="9.3" text-anchor="end" fill="#222">11</text>
<text transform="translate(484.5,17.8) scale(0.92,1)" font-size="9.3" text-anchor="end" fill="#222">12</text>
<polyline points="488.5,137.12 489.46,137.25 490.43,137.32 491.39,137.48 492.36,137.59 493.32,137.75 494.29,137.78 495.25,137.93 496.22,138.02 497.18,138.1 498.15,138.17 499.11,138.37 500.08,138.49 501.04,138.63 502.01,138.82 502.97,139.02 503.94,139.2 504.9,139.38 505.87,139.57 506.83,139.78 507.8,139.98 508.76,140.19 509.73,140.44 510.69,140.59 511.66,140.74 512.62,140.91 513.59,141.07 514.55,141.22 515.52,141.4 516.48,141.61 517.44,141.92 518.41,142.21 519.37,142.46 520.34,142.71 521.3,143 522.27,143.16 523.23,143.34 524.2,143.59 525.16,143.88 526.13,144.12 527.09,144.46 528.06,144.69 529.02,144.94 529.99,145.2 530.95,145.4 531.92,145.6 532.88,145.8 533.85,146.03 534.81,146.16 535.78,146.26 536.74,146.32 537.71,146.44 538.67,146.55 539.64,146.63 540.6,146.79 541.57,146.89 542.53,147.05 543.49,147.09 544.46,147.25 545.42,147.39 546.39,147.63 547.35,147.82 548.32,148.09 549.28,148.28 550.25,148.54 551.21,148.75 552.18,148.92 553.14,149.12 554.11,149.41 555.07,149.62 556.04,149.92 557,150.26 557.97,150.51 558.93,150.66 559.9,150.85 560.86,150.96 561.83,151.14 562.79,151.46 563.76,151.82 564.72,152.26 565.69,152.77 566.65,153.1 567.62,153.37 568.58,153.69 569.55,153.89 570.51,154.03 571.47,154.26 572.44,154.53 573.4,154.71 574.37,154.91 575.33,155.05 576.3,155.09 577.26,155.13 578.23,155.2 579.19,155.26 580.16,155.23 581.12,155.43 582.09,155.54 583.05,155.58 584.02,155.64 584.98,155.81 585.95,155.77 586.91,155.76 587.88,155.82 588.84,155.87 589.81,155.86 590.77,155.96 591.74,156.06 592.7,156.16 593.67,156.15 594.63,156.23 595.6,156.26 596.56,156.26 597.53,156.29 598.49,156.36 599.45,156.39 600.42,156.4 601.38,156.47 602.35,156.5 603.31,156.47 604.28,156.56 605.24,156.56 606.21,156.57 607.17,156.58 608.14,156.7 609.1,156.65 610.07,156.7 611.03,156.65 612,156.66 612.96,156.66 613.93,156.72 614.89,156.68 615.86,156.72 616.82,156.73 617.79,156.65 618.75,156.62 619.72,156.68 620.68,156.7 621.65,156.74 622.61,156.82 623.58,156.88 624.54,156.87 625.51,156.88 626.47,156.86 627.43,156.85 628.4,156.85 629.36,156.87 630.33,156.91 631.29,156.96 632.26,156.99 633.22,156.93 634.19,156.85 635.15,156.86 636.12,156.82 637.08,156.8 638.05,156.91 639.01,156.98 639.98,157.06 640.94,157.13 641.91,157.21 642.87,157.2 643.84,157.24 644.8,157.23 645.77,157.21 646.73,157.22 647.7,157.22 648.66,157.24 649.63,157.18 650.59,157.18 651.56,157.17 652.52,157.18 653.48,157.27 654.45,157.38 655.41,157.39 656.38,157.46 657.34,157.5 658.31,157.45 659.27,157.4 660.24,157.45 661.2,157.45 662.17,157.42 663.13,157.39 664.1,157.44 665.06,157.43 666.03,157.37 666.99,157.37 667.96,157.45 668.92,157.39 669.89,157.38 670.85,157.38 671.82,157.45 672.78,157.46 673.75,157.46 674.71,157.46 675.68,157.49 676.64,157.42 677.61,157.36 678.57,157.35 679.54,157.37 680.5,157.38" fill="none" stroke="#800080" stroke-width="1.05" stroke-linejoin="round" stroke-linecap="round"/>
<polyline points="488.5,137.16 489.46,137.03 490.43,136.91 491.39,136.81 492.36,136.59 493.32,136.54 494.29,136.38 495.25,136.25 496.22,136.09 497.18,136.01 498.15,135.83 499.11,135.71 500.08,135.61 501.04,135.46 502.01,135.32 502.97,135.2 503.94,135.07 504.9,134.99 505.87,134.86 506.83,134.85 507.8,134.83 508.76,134.78 509.73,134.61 510.69,134.57 511.66,134.42 512.62,134.3 513.59,134.27 514.55,134.23 515.52,134.09 516.48,134.12 517.44,134.07 518.41,133.97 519.37,133.93 520.34,133.95 521.3,133.79 522.27,133.72 523.23,133.65 524.2,133.59 525.16,133.49 526.13,133.45 527.09,133.39 528.06,133.22 529.02,133.13 529.99,133.12 530.95,133.16 531.92,133.11 532.88,133.23 533.85,133.25 534.81,133.22 535.78,133.15 536.74,133.22 537.71,133.18 538.67,133.17 539.64,133.24 540.6,133.32 541.57,133.31 542.53,133.42 543.49,133.46 544.46,133.5 545.42,133.55 546.39,133.64 547.35,133.54 548.32,133.66 549.28,133.7 550.25,133.71 551.21,133.71 552.18,133.85 553.14,133.82 554.11,133.87 555.07,133.93 556.04,134.08 557,134.18 557.97,134.28 558.93,134.37 559.9,134.41 560.86,134.44 561.83,134.55 562.79,134.65 563.76,134.72 564.72,134.78 565.69,134.78 566.65,134.74 567.62,134.78 568.58,134.81 569.55,134.83 570.51,134.85 571.47,134.84 572.44,134.82 573.4,134.77 574.37,134.87 575.33,134.88 576.3,134.89 577.26,134.84 578.23,134.8 579.19,134.68 580.16,134.64 581.12,134.58 582.09,134.57 583.05,134.51 584.02,134.49 584.98,134.43 585.95,134.41 586.91,134.35 587.88,134.36 588.84,134.28 589.81,134.28 590.77,134.17 591.74,134.14 592.7,134.1 593.67,134.03 594.63,133.95 595.6,133.95 596.56,133.92 597.53,133.89 598.49,133.88 599.45,133.81 600.42,133.84 601.38,133.74 602.35,133.62 603.31,133.57 604.28,133.54 605.24,133.47 606.21,133.37 607.17,133.45 608.14,133.43 609.1,133.41 610.07,133.35 611.03,133.33 612,133.28 612.96,133.19 613.93,133.14 614.89,132.98 615.86,132.93 616.82,132.75 617.79,132.71 618.75,132.63 619.72,132.7 620.68,132.59 621.65,132.52 622.61,132.48 623.58,132.39 624.54,132.27 625.51,132.18 626.47,132.18 627.43,132.01 628.4,132 629.36,131.95 630.33,131.94 631.29,131.86 632.26,131.8 633.22,131.67 634.19,131.51 635.15,131.42 636.12,131.37 637.08,131.29 638.05,131.23 639.01,131.27 639.98,131.15 640.94,131 641.91,131.02 642.87,130.97 643.84,130.83 644.8,130.83 645.77,130.75 646.73,130.62 647.7,130.52 648.66,130.47 649.63,130.41 650.59,130.39 651.56,130.33 652.52,130.28 653.48,130.17 654.45,130.02 655.41,129.94 656.38,129.83 657.34,129.67 658.31,129.63 659.27,129.58 660.24,129.46 661.2,129.41 662.17,129.42 663.13,129.26 664.1,129.2 665.06,129.13 666.03,129.01 666.99,128.89 667.96,128.79 668.92,128.59 669.89,128.49 670.85,128.47 671.82,128.35 672.78,128.39 673.75,128.34 674.71,128.23 675.68,128.07 676.64,127.94 677.61,127.77 678.57,127.73 679.54,127.66 680.5,127.58" fill="none" stroke="#1a1aa0" stroke-width="1.05" stroke-linejoin="round" stroke-linecap="round"/>
<polyline points="488.5,137.15 489.46,136.96 490.43,136.79 491.39,136.7 492.36,136.56 493.32,136.43 494.29,136.36 495.25,136.18 496.22,136.01 497.18,135.83 498.15,135.64 499.11,135.45 500.08,135.42 501.04,135.31 502.01,135.18 502.97,135.02 503.94,134.96 504.9,134.83 505.87,134.68 506.83,134.54 507.8,134.44 508.76,134.23 509.73,134.08 510.69,134 511.66,133.93 512.62,133.8 513.59,133.72 514.55,133.66 515.52,133.47 516.48,133.35 517.44,133.26 518.41,133.1 519.37,132.97 520.34,132.93 521.3,132.93 522.27,132.84 523.23,132.77 524.2,132.64 525.16,132.49 526.13,132.24 527.09,132.06 528.06,131.89 529.02,131.74 529.99,131.64 530.95,131.61 531.92,131.64 532.88,131.68 533.85,131.71 534.81,131.74 535.78,131.8 536.74,131.81 537.71,131.82 538.67,131.85 539.64,131.93 540.6,131.96 541.57,132.04 542.53,132.09 543.49,132.07 544.46,132.04 545.42,132.13 546.39,132.12 547.35,132.18 548.32,132.29 549.28,132.31 550.25,132.31 551.21,132.27 552.18,132.35 553.14,132.36 554.11,132.42 555.07,132.42 556.04,132.54 557,132.45 557.97,132.44 558.93,132.48 559.9,132.54 560.86,132.53 561.83,132.59 562.79,132.61 563.76,132.59 564.72,132.55 565.69,132.52 566.65,132.45 567.62,132.46 568.58,132.49 569.55,132.45 570.51,132.46 571.47,132.52 572.44,132.52 573.4,132.47 574.37,132.54 575.33,132.55 576.3,132.52 577.26,132.52 578.23,132.53 579.19,132.59 580.16,132.58 581.12,132.66 582.09,132.57 583.05,132.62 584.02,132.5 584.98,132.54 585.95,132.56 586.91,132.61 587.88,132.55 588.84,132.63 589.81,132.64 590.77,132.66 591.74,132.67 592.7,132.66 593.67,132.69 594.63,132.62 595.6,132.47 596.56,132.51 597.53,132.48 598.49,132.38 599.45,132.39 600.42,132.42 601.38,132.36 602.35,132.3 603.31,132.17 604.28,132.06 605.24,131.97 606.21,131.88 607.17,131.69 608.14,131.55 609.1,131.44 610.07,131.3 611.03,131.13 612,131.05 612.96,131.07 613.93,130.93 614.89,130.91 615.86,130.79 616.82,130.76 617.79,130.56 618.75,130.47 619.72,130.31 620.68,130.26 621.65,130.18 622.61,130.07 623.58,129.95 624.54,129.85 625.51,129.77 626.47,129.61 627.43,129.58 628.4,129.53 629.36,129.41 630.33,129.24 631.29,129.16 632.26,129.04 633.22,128.93 634.19,128.83 635.15,128.77 636.12,128.64 637.08,128.56 638.05,128.48 639.01,128.39 639.98,128.28 640.94,128.22 641.91,128.11 642.87,127.97 643.84,127.94 644.8,127.84 645.77,127.74 646.73,127.7 647.7,127.62 648.66,127.48 649.63,127.4 650.59,127.37 651.56,127.28 652.52,127.2 653.48,127.04 654.45,126.94 655.41,126.86 656.38,126.67 657.34,126.57 658.31,126.5 659.27,126.42 660.24,126.22 661.2,126.16 662.17,126.12 663.13,126.08 664.1,125.96 665.06,125.93 666.03,125.81 666.99,125.69 667.96,125.56 668.92,125.48 669.89,125.34 670.85,125.27 671.82,125.23 672.78,125.19 673.75,125.06 674.71,125.01 675.68,124.89 676.64,124.69 677.61,124.62 678.57,124.55 679.54,124.45 680.5,124.42" fill="none" stroke="#9a9a14" stroke-width="1.05" stroke-linejoin="round" stroke-linecap="round"/>
<polyline points="488.5,137.14 489.46,137.05 490.43,136.96 491.39,136.93 492.36,136.75 493.32,136.6 494.29,136.49 495.25,136.31 496.22,136.1 497.18,135.91 498.15,135.74 499.11,135.54 500.08,135.42 501.04,135.26 502.01,135.13 502.97,134.98 503.94,134.82 504.9,134.63 505.87,134.55 506.83,134.42 507.8,134.25 508.76,134.1 509.73,133.94 510.69,133.69 511.66,133.54 512.62,133.35 513.59,133.17 514.55,132.96 515.52,132.83 516.48,132.63 517.44,132.45 518.41,132.33 519.37,132.13 520.34,132 521.3,131.83 522.27,131.68 523.23,131.46 524.2,131.31 525.16,130.99 526.13,130.78 527.09,130.68 528.06,130.44 529.02,130.23 529.99,130.07 530.95,129.88 531.92,129.59 532.88,129.45 533.85,129.27 534.81,128.95 535.78,128.64 536.74,128.31 537.71,127.94 538.67,127.59 539.64,127.26 540.6,126.89 541.57,126.5 542.53,126.05 543.49,125.55 544.46,124.93 545.42,124.13 546.39,123.29 547.35,122.7 548.32,122.39 549.28,122.44 550.25,122.7 551.21,123.05 552.18,123.37 553.14,123.75 554.11,124.08 555.07,124.3 556.04,124.61 557,124.84 557.97,125.08 558.93,125.26 559.9,125.51 560.86,125.69 561.83,125.89 562.79,125.99 563.76,126.26 564.72,126.43 565.69,126.56 566.65,126.6 567.62,126.79 568.58,126.72 569.55,126.74 570.51,126.8 571.47,126.87 572.44,126.84 573.4,126.93 574.37,126.91 575.33,126.92 576.3,126.89 577.26,126.83 578.23,126.81 579.19,126.81 580.16,126.75 581.12,126.83 582.09,126.85 583.05,126.86 584.02,126.85 584.98,126.82 585.95,126.71 586.91,126.72 587.88,126.72 588.84,126.68 589.81,126.67 590.77,126.62 591.74,126.54 592.7,126.48 593.67,126.42 594.63,126.31 595.6,126.28 596.56,126.32 597.53,126.14 598.49,126.09 599.45,126.05 600.42,125.98 601.38,125.86 602.35,125.88 603.31,125.8 604.28,125.71 605.24,125.61 606.21,125.51 607.17,125.37 608.14,125.3 609.1,125.24 610.07,125.17 611.03,125.09 612,124.97 612.96,124.85 613.93,124.66 614.89,124.49 615.86,124.27 616.82,124.16 617.79,124 618.75,123.94 619.72,123.91 620.68,123.84 621.65,123.72 622.61,123.66 623.58,123.55 624.54,123.39 625.51,123.33 626.47,123.23 627.43,123.11 628.4,122.96 629.36,122.82 630.33,122.72 631.29,122.59 632.26,122.49 633.22,122.43 634.19,122.29 635.15,122.12 636.12,122.1 637.08,122.02 638.05,121.93 639.01,121.91 639.98,121.81 640.94,121.72 641.91,121.54 642.87,121.4 643.84,121.22 644.8,121.16 645.77,121.01 646.73,120.94 647.7,120.82 648.66,120.74 649.63,120.62 650.59,120.52 651.56,120.35 652.52,120.22 653.48,120.06 654.45,119.89 655.41,119.75 656.38,119.66 657.34,119.54 658.31,119.48 659.27,119.43 660.24,119.36 661.2,119.32 662.17,119.16 663.13,119.05 664.1,118.93 665.06,118.76 666.03,118.72 666.99,118.66 667.96,118.54 668.92,118.43 669.89,118.37 670.85,118.17 671.82,118.03 672.78,117.88 673.75,117.75 674.71,117.61 675.68,117.47 676.64,117.41 677.61,117.38 678.57,117.28 679.54,117.18 680.5,117.07" fill="none" stroke="#666666" stroke-width="1.05" stroke-linejoin="round" stroke-linecap="round"/>
<polyline points="488.5,137.13 489.46,137.02 490.43,136.92 491.39,136.79 492.36,136.7 493.32,136.46 494.29,136.35 495.25,136.13 496.22,135.99 497.18,135.8 498.15,135.62 499.11,135.41 500.08,135.26 501.04,135.08 502.01,134.83 502.97,134.75 503.94,134.46 504.9,134.27 505.87,133.94 506.83,133.85 507.8,133.5 508.76,133.28 509.73,133.09 510.69,133.01 511.66,132.66 512.62,132.52 513.59,132.32 514.55,131.94 515.52,131.6 516.48,131.42 517.44,131.09 518.41,130.78 519.37,130.56 520.34,130.27 521.3,129.91 522.27,129.7 523.23,129.41 524.2,129.19 525.16,128.89 526.13,128.66 527.09,128.31 528.06,128.02 529.02,127.62 529.99,127.31 530.95,126.92 531.92,126.61 532.88,126.25 533.85,125.85 534.81,125.44 535.78,125.03 536.74,124.68 537.71,124.27 538.67,123.94 539.64,123.64 540.6,123.35 541.57,122.96 542.53,122.66 543.49,122.29 544.46,121.89 545.42,121.51 546.39,121.2 547.35,120.81 548.32,120.53 549.28,120.17 550.25,119.77 551.21,119.32 552.18,118.94 553.14,118.55 554.11,118.21 555.07,117.93 556.04,117.55 557,117.16 557.97,116.76 558.93,116.42 559.9,115.97 560.86,115.65 561.83,115.33 562.79,114.91 563.76,114.52 564.72,114.22 565.69,113.83 566.65,113.49 567.62,113.26 568.58,112.92 569.55,112.53 570.51,112.23 571.47,111.86 572.44,111.5 573.4,111.24 574.37,110.96 575.33,110.67 576.3,110.38 577.26,110.09 578.23,109.74 579.19,109.48 580.16,109.15 581.12,108.88 582.09,108.57 583.05,108.33 584.02,108 584.98,107.71 585.95,107.53 586.91,107.22 587.88,106.93 588.84,106.7 589.81,106.45 590.77,106.08 591.74,105.87 592.7,105.62 593.67,105.38 594.63,105.15 595.6,105.01 596.56,104.81 597.53,104.58 598.49,104.39 599.45,104.2 600.42,103.93 601.38,103.69 602.35,103.43 603.31,103.21 604.28,102.98 605.24,102.76 606.21,102.5 607.17,102.25 608.14,102.04 609.1,101.85 610.07,101.68 611.03,101.54 612,101.44 612.96,101.25 613.93,101.09 614.89,100.9 615.86,100.79 616.82,100.56 617.79,100.39 618.75,100.24 619.72,100.01 620.68,99.77 621.65,99.57 622.61,99.4 623.58,99.16 624.54,99.05 625.51,98.86 626.47,98.79 627.43,98.58 628.4,98.45 629.36,98.27 630.33,98.05 631.29,97.86 632.26,97.65 633.22,97.49 634.19,97.28 635.15,97.22 636.12,97.1 637.08,96.95 638.05,96.78 639.01,96.73 639.98,96.55 640.94,96.39 641.91,96.26 642.87,96.1 643.84,95.85 644.8,95.69 645.77,95.54 646.73,95.48 647.7,95.37 648.66,95.28 649.63,95.24 650.59,95.05 651.56,94.9 652.52,94.69 653.48,94.5 654.45,94.17 655.41,94.03 656.38,93.84 657.34,93.72 658.31,93.56 659.27,93.43 660.24,93.32 661.2,93.11 662.17,92.9 663.13,92.84 664.1,92.82 665.06,92.73 666.03,92.65 666.99,92.5 667.96,92.33 668.92,92.17 669.89,91.91 670.85,91.83 671.82,91.8 672.78,91.61 673.75,91.39 674.71,91.34 675.68,91.08 676.64,90.9 677.61,90.76 678.57,90.61 679.54,90.43 680.5,90.32" fill="none" stroke="#ff00ff" stroke-width="1.05" stroke-linejoin="round" stroke-linecap="round"/>
<polyline points="488.5,137.18 489.46,136.93 490.43,136.69 491.39,136.44 492.36,136.12 493.32,135.94 494.29,135.73 495.25,135.42 496.22,135.15 497.18,134.91 498.15,134.52 499.11,134.22 500.08,133.98 501.04,133.71 502.01,133.37 502.97,132.99 503.94,132.63 504.9,132.2 505.87,131.83 506.83,131.47 507.8,131.26 508.76,130.9 509.73,130.58 510.69,130.22 511.66,129.86 512.62,129.46 513.59,129.14 514.55,128.8 515.52,128.43 516.48,128.13 517.44,127.8 518.41,127.46 519.37,127.19 520.34,126.81 521.3,126.36 522.27,125.96 523.23,125.59 524.2,125.17 525.16,124.85 526.13,124.5 527.09,124.15 528.06,123.78 529.02,123.36 529.99,123.03 530.95,122.67 531.92,122.33 532.88,121.95 533.85,121.63 534.81,121.24 535.78,120.88 536.74,120.45 537.71,120.11 538.67,119.7 539.64,119.3 540.6,118.9 541.57,118.61 542.53,118.2 543.49,117.83 544.46,117.5 545.42,117.17 546.39,116.72 547.35,116.27 548.32,115.94 549.28,115.55 550.25,115.13 551.21,114.7 552.18,114.41 553.14,113.9 554.11,113.5 555.07,113.12 556.04,112.77 557,112.37 557.97,111.98 558.93,111.62 559.9,111.22 560.86,110.81 561.83,110.42 562.79,110.07 563.76,109.59 564.72,109.21 565.69,108.85 566.65,108.48 567.62,108.05 568.58,107.73 569.55,107.3 570.51,106.91 571.47,106.44 572.44,106.04 573.4,105.59 574.37,105.14 575.33,104.62 576.3,104.22 577.26,103.74 578.23,103.28 579.19,102.85 580.16,102.46 581.12,102.05 582.09,101.73 583.05,101.34 584.02,101 584.98,100.63 585.95,100.23 586.91,99.85 587.88,99.38 588.84,98.94 589.81,98.55 590.77,98.17 591.74,97.7 592.7,97.35 593.67,96.92 594.63,96.46 595.6,95.97 596.56,95.54 597.53,95.13 598.49,94.74 599.45,94.33 600.42,93.93 601.38,93.52 602.35,93.16 603.31,92.74 604.28,92.35 605.24,91.87 606.21,91.45 607.17,90.96 608.14,90.59 609.1,90.18 610.07,89.82 611.03,89.4 612,89.02 612.96,88.57 613.93,88.07 614.89,87.68 615.86,87.32 616.82,86.91 617.79,86.5 618.75,86.12 619.72,85.71 620.68,85.3 621.65,84.84 622.61,84.38 623.58,83.94 624.54,83.55 625.51,83.09 626.47,82.72 627.43,82.29 628.4,81.91 629.36,81.47 630.33,81.1 631.29,80.58 632.26,80.19 633.22,79.78 634.19,79.4 635.15,78.91 636.12,78.6 637.08,78.24 638.05,77.83 639.01,77.35 639.98,77 640.94,76.59 641.91,76.13 642.87,75.74 643.84,75.32 644.8,74.9 645.77,74.44 646.73,74.03 647.7,73.6 648.66,73.29 649.63,72.86 650.59,72.5 651.56,72.12 652.52,71.65 653.48,71.22 654.45,70.77 655.41,70.32 656.38,69.96 657.34,69.55 658.31,69.09 659.27,68.72 660.24,68.32 661.2,67.78 662.17,67.42 663.13,67.02 664.1,66.54 665.06,66.14 666.03,65.82 666.99,65.38 667.96,65 668.92,64.66 669.89,64.24 670.85,63.78 671.82,63.36 672.78,62.95 673.75,62.53 674.71,62.07 675.68,61.64 676.64,61.2 677.61,60.79 678.57,60.42 679.54,60.05 680.5,59.69" fill="none" stroke="#2a2aff" stroke-width="1.05" stroke-linejoin="round" stroke-linecap="round"/>
<polyline points="488.5,137.09 489.46,136.76 490.43,136.42 491.39,136.13 492.36,135.79 493.32,135.46 494.29,135.09 495.25,134.7 496.22,134.31 497.18,133.92 498.15,133.57 499.11,133.26 500.08,132.87 501.04,132.52 502.01,132.14 502.97,131.73 503.94,131.3 504.9,130.94 505.87,130.53 506.83,130.07 507.8,129.61 508.76,129.17 509.73,128.68 510.69,128.24 511.66,127.77 512.62,127.38 513.59,126.86 514.55,126.41 515.52,125.87 516.48,125.33 517.44,124.64 518.41,124.17 519.37,123.63 520.34,123.1 521.3,122.68 522.27,122.21 523.23,121.69 524.2,121.18 525.16,120.66 526.13,120.18 527.09,119.7 528.06,119.22 529.02,118.73 529.99,118.24 530.95,117.75 531.92,117.26 532.88,116.7 533.85,116.16 534.81,115.64 535.78,115.06 536.74,114.58 537.71,114.13 538.67,113.63 539.64,113.15 540.6,112.71 541.57,112.11 542.53,111.61 543.49,111.14 544.46,110.66 545.42,110.13 546.39,109.7 547.35,109.19 548.32,108.66 549.28,108.14 550.25,107.66 551.21,107.16 552.18,106.66 553.14,106.21 554.11,105.68 555.07,105.18 556.04,104.69 557,104.16 557.97,103.61 558.93,103.06 559.9,102.47 560.86,101.9 561.83,101.43 562.79,100.9 563.76,100.45 564.72,99.96 565.69,99.49 566.65,98.98 567.62,98.53 568.58,98.04 569.55,97.54 570.51,97.13 571.47,96.71 572.44,96.19 573.4,95.7 574.37,95.24 575.33,94.65 576.3,94.08 577.26,93.62 578.23,93.13 579.19,92.65 580.16,92.22 581.12,91.81 582.09,91.36 583.05,90.92 584.02,90.42 584.98,89.86 585.95,89.27 586.91,88.69 587.88,88.12 588.84,87.6 589.81,87.13 590.77,86.66 591.74,86.15 592.7,85.62 593.67,85.17 594.63,84.67 595.6,84.09 596.56,83.53 597.53,82.98 598.49,82.38 599.45,81.75 600.42,81.22 601.38,80.64 602.35,80.04 603.31,79.4 604.28,78.91 605.24,78.26 606.21,77.71 607.17,77.1 608.14,76.55 609.1,75.88 610.07,75.35 611.03,74.78 612,74.25 612.96,73.65 613.93,73.12 614.89,72.54 615.86,71.85 616.82,71.21 617.79,70.62 618.75,69.97 619.72,69.45 620.68,68.95 621.65,68.4 622.61,67.79 623.58,67.22 624.54,66.54 625.51,65.89 626.47,65.33 627.43,64.79 628.4,64.2 629.36,63.61 630.33,63.06 631.29,62.48 632.26,61.79 633.22,61.25 634.19,60.7 635.15,60.13 636.12,59.47 637.08,58.92 638.05,58.29 639.01,57.64 639.98,57.1 640.94,56.51 641.91,55.92 642.87,55.26 643.84,54.72 644.8,54.05 645.77,53.47 646.73,52.85 647.7,52.25 648.66,51.6 649.63,50.93 650.59,50.32 651.56,49.69 652.52,49.04 653.48,48.42 654.45,47.85 655.41,47.33 656.38,46.87 657.34,46.35 658.31,45.78 659.27,45.26 660.24,44.73 661.2,44.13 662.17,43.6 663.13,43.16 664.1,42.77 665.06,42.3 666.03,41.79 666.99,41.37 667.96,40.9 668.92,40.43 669.89,39.96 670.85,39.59 671.82,39.1 672.78,38.68 673.75,38.23 674.71,37.7 675.68,37.19 676.64,36.7 677.61,36.09 678.57,35.57 679.54,35.13 680.5,34.66" fill="none" stroke="#000000" stroke-width="1.05" stroke-linejoin="round" stroke-linecap="round"/>
<polygon points="502.3,89 549,89 549,93 502.3,93" fill="#e0d9e7"/>
<polygon points="502.3,93 549,93 549,103.4 502.3,103.4" fill="#c4d7ee"/>
<polygon points="549,89 570.6,68.7 570.6,72.6 549,93" fill="#c6bccf"/>
<polygon points="549,93 570.6,72.6 570.6,83 549,103.4" fill="#a7b9d3"/>
<polygon points="502.3,89 523.5,68.7 570.6,68.7 549,89" fill="#e6e1ec"/>
<polygon points="527.3,62.9 542.7,46.5 542.7,68.7 527.0,83.0" fill="#f07474"/>
<line x1="542.7" y1="46" x2="542.7" y2="68.7" stroke="#222" stroke-width="0.8" stroke-dasharray="1,1"/>
<line x1="542.7" y1="68.7" x2="566" y2="68.7" stroke="#222" stroke-width="0.8" stroke-dasharray="1,1"/>
<path d="M564.5,67 L568.5,68.7 L564.5,70.4 z" fill="#222"/>
<line x1="542.7" y1="68.7" x2="529" y2="63.6" stroke="#222" stroke-width="0.9"/>
<path d="M527.3,62.9 L531.2,63 L530.2,65.4 z" fill="#222"/>
<line x1="542.7" y1="68.7" x2="519.2" y2="90.4" stroke="#222" stroke-width="0.9"/>
<path d="M518,91.5 L519.2,88 L521.2,90.2 z" fill="#222"/>
<path d="M542.7,61.5 A7.2,7.2 0 0 0 535.9,66.2" fill="none" stroke="#222" stroke-width="0.8"/>
<text x="534.6" y="61.8" font-size="9" font-style="italic" font-family="Liberation Serif" fill="#222">&#952;</text>
<text x="545.0" y="47.9" font-size="7" font-weight="bold" font-family="Liberation Serif" fill="#222" textLength="14.2" lengthAdjust="spacingAndGlyphs">[110]</text>
<text x="560.4" y="48.6" font-size="5.2" font-family="Liberation Serif" fill="#222">o</text>
<text x="517.6" y="67.7" font-size="9.5" font-weight="bold" font-family="Liberation Serif" fill="#111">B</text>
<path d="M518.5,59.3 H524.2 M522.8,58.3 L524.4,59.3 L522.8,60.3" fill="none" stroke="#111" stroke-width="0.6"/>
<text x="515.2" y="92.8" font-size="9.5" font-weight="bold" font-family="Liberation Serif" fill="#111">I</text>
<path d="M515.6,84.5 H519 M518,83.8 L519.2,84.5 L518,85.2" fill="none" stroke="#111" stroke-width="0.5"/>
<text x="535.8" y="93" font-size="6.3" font-weight="bold" fill="#222">SRO</text>
<text x="535.8" y="102.4" font-size="6.3" font-weight="bold" fill="#222">STO</text>
<text x="496.3" y="34.6" font-size="12" text-anchor="start" fill="#222" font-weight="normal" font-style="normal" textLength="57.8" lengthAdjust="spacingAndGlyphs"><tspan font-style="italic">t</tspan> &#8776; 13.7 nm</text>
<text x="631.3" y="46.2" font-size="12" fill="#222"><tspan font-style="italic" font-family="Liberation Serif">&#952;</tspan> = 0&#176;</text>
<text x="643.3" y="69.9" font-size="12" text-anchor="start" fill="#222" font-weight="normal" font-style="normal" >30&#176;</text>
<text x="637.3" y="95.5" font-size="12" text-anchor="start" fill="#222" font-weight="normal" font-style="normal" >50&#176;</text>
<text x="628.6" y="119.3" font-size="12" text-anchor="start" fill="#222" font-weight="normal" font-style="normal" >60&#176;</text>
<text x="652" y="113.4" font-size="12" text-anchor="start" fill="#222" font-weight="normal" font-style="normal" >70&#176;</text>
<line x1="656.3" y1="113.6" x2="663.3" y2="126.1" stroke="#222" stroke-width="0.9"/>
<text x="644.2" y="141.6" font-size="12" text-anchor="start" fill="#222" font-weight="normal" font-style="normal" >80&#176;</text>
<text x="623.8" y="156" font-size="12" text-anchor="start" fill="#222" font-weight="normal" font-style="normal" >90&#176;</text>
<text transform="translate(486.4,10.8) scale(0.92,1)" font-size="15.5" font-weight="bold" fill="#111">d</text>
<g transform="translate(470.7,111.8) rotate(-90)">
<g transform="scale(0.87)" fill="none" stroke="#222" stroke-width="1.27" stroke-linecap="round"><ellipse cx="5.9" cy="-3.1" rx="4.0" ry="2.45" transform="rotate(-48 5.9 -3.1)"/><path d="M3.3,-1.2 L0.6,3.5"/></g>
<text x="13.4" y="0" font-size="13" fill="#222" textLength="41" lengthAdjust="spacingAndGlyphs">(&#956;&#937;cm)</text>
</g>
<path d="M488.5 320.5v-4M488.5 170.5v4M502.5 320.5v-2.2M502.5 170.5v2.2M515.5 320.5v-4M515.5 170.5v4M529.5 320.5v-2.2M529.5 170.5v2.2M543.5 320.5v-4M543.5 170.5v4M557.5 320.5v-2.2M557.5 170.5v2.2M570.5 320.5v-4M570.5 170.5v4M584.5 320.5v-2.2M584.5 170.5v2.2M598.5 320.5v-4M598.5 170.5v4M611.5 320.5v-2.2M611.5 170.5v2.2M625.5 320.5v-4M625.5 170.5v4M639.5 320.5v-2.2M639.5 170.5v2.2M653.5 320.5v-4M653.5 170.5v4M666.5 320.5v-2.2M666.5 170.5v2.2M680.5 320.5v-4M680.5 170.5v4M488.5 320.5h2.2M680.5 320.5h-2.2M488.5 311.5h4M680.5 311.5h-4M488.5 302.5h2.2M680.5 302.5h-2.2M488.5 294.5h4M680.5 294.5h-4M488.5 285.5h2.2M680.5 285.5h-2.2M488.5 276.5h4M680.5 276.5h-4M488.5 267.5h2.2M680.5 267.5h-2.2M488.5 258.5h4M680.5 258.5h-4M488.5 249.5h2.2M680.5 249.5h-2.2M488.5 241.5h4M680.5 241.5h-4M488.5 232.5h2.2M680.5 232.5h-2.2M488.5 223.5h4M680.5 223.5h-4M488.5 214.5h2.2M680.5 214.5h-2.2M488.5 205.5h4M680.5 205.5h-4M488.5 196.5h2.2M680.5 196.5h-2.2M488.5 188.5h4M680.5 188.5h-4M488.5 179.5h2.2M680.5 179.5h-2.2M488.5 170.5h4M680.5 170.5h-4" stroke="#2a2a2a" stroke-width="1" fill="none"/>
<rect x="488.5" y="170.5" width="192" height="150" fill="none" stroke="#2a2a2a" stroke-width="1.1"/>
<text transform="translate(484.5,314.98) scale(0.92,1)" font-size="9.3" text-anchor="end" fill="#222">4</text>
<text transform="translate(484.5,297.33) scale(0.92,1)" font-size="9.3" text-anchor="end" fill="#222">5</text>
<text transform="translate(484.5,279.68) scale(0.92,1)" font-size="9.3" text-anchor="end" fill="#222">6</text>
<text transform="translate(484.5,262.04) scale(0.92,1)" font-size="9.3" text-anchor="end" fill="#222">7</text>
<text transform="translate(484.5,244.39) scale(0.92,1)" font-size="9.3" text-anchor="end" fill="#222">8</text>
<text transform="translate(484.5,226.74) scale(0.92,1)" font-size="9.3" text-anchor="end" fill="#222">9</text>
<text transform="translate(484.5,209.1) scale(0.92,1)" font-size="9.3" text-anchor="end" fill="#222">10</text>
<text transform="translate(484.5,191.45) scale(0.92,1)" font-size="9.3" text-anchor="end" fill="#222">11</text>
<text transform="translate(484.5,173.8) scale(0.92,1)" font-size="9.3" text-anchor="end" fill="#222">12</text>
<text transform="translate(488.5,332.1) scale(0.92,1)" font-size="9.3" text-anchor="middle" fill="#222">0</text>
<text transform="translate(515.93,332.1) scale(0.92,1)" font-size="9.3" text-anchor="middle" fill="#222">5</text>
<text transform="translate(543.36,332.1) scale(0.92,1)" font-size="9.3" text-anchor="middle" fill="#222">10</text>
<text transform="translate(570.79,332.1) scale(0.92,1)" font-size="9.3" text-anchor="middle" fill="#222">15</text>
<text transform="translate(598.21,332.1) scale(0.92,1)" font-size="9.3" text-anchor="middle" fill="#222">20</text>
<text transform="translate(625.64,332.1) scale(0.92,1)" font-size="9.3" text-anchor="middle" fill="#222">25</text>
<text transform="translate(653.07,332.1) scale(0.92,1)" font-size="9.3" text-anchor="middle" fill="#222">30</text>
<text transform="translate(680.5,332.1) scale(0.92,1)" font-size="9.3" text-anchor="middle" fill="#222">35</text>
<polyline points="488.5,302.18 489.46,302.38 490.43,302.56 491.39,302.74 492.36,302.91 493.32,302.97 494.29,303.09 495.25,303.21 496.22,303.28 497.18,303.36 498.15,303.58 499.11,303.69 500.08,303.73 501.04,303.85 502.01,304 502.97,304.04 503.94,304.1 504.9,304.26 505.87,304.36 506.83,304.29 507.8,304.28 508.76,304.35 509.73,304.39 510.69,304.43 511.66,304.59 512.62,304.73 513.59,304.75 514.55,304.81 515.52,304.83 516.48,304.82 517.44,304.83 518.41,304.9 519.37,304.95 520.34,305.03 521.3,305.1 522.27,305.23 523.23,305.31 524.2,305.38 525.16,305.41 526.13,305.44 527.09,305.45 528.06,305.37 529.02,305.38 529.99,305.43 530.95,305.49 531.92,305.44 532.88,305.47 533.85,305.51 534.81,305.5 535.78,305.47 536.74,305.62 537.71,305.78 538.67,305.85 539.64,305.79 540.6,305.83 541.57,305.78 542.53,305.73 543.49,305.71 544.46,305.76 545.42,305.82 546.39,305.84 547.35,305.74 548.32,305.75 549.28,305.85 550.25,305.84 551.21,305.92 552.18,306.04 553.14,305.98 554.11,306 555.07,306 556.04,306.01 557,306.12 557.97,306.14 558.93,306.2 559.9,306.24 560.86,306.21 561.83,306.06 562.79,306.17 563.76,306.08 564.72,306.15 565.69,306.12 566.65,306.14 567.62,306.09 568.58,306.12 569.55,306.03 570.51,306.03 571.47,306.11 572.44,306.02 573.4,306.06 574.37,306.08 575.33,306.14 576.3,306.13 577.26,306.28 578.23,306.28 579.19,306.36 580.16,306.45 581.12,306.52 582.09,306.49 583.05,306.41 584.02,306.41 584.98,306.33 585.95,306.34 586.91,306.32 587.88,306.41 588.84,306.21 589.81,306.24 590.77,306.12 591.74,306.17 592.7,306.17 593.67,306.27 594.63,306.29 595.6,306.31 596.56,306.32 597.53,306.29 598.49,306.28 599.45,306.33 600.42,306.39 601.38,306.37 602.35,306.43 603.31,306.44 604.28,306.35 605.24,306.33 606.21,306.3 607.17,306.28 608.14,306.33 609.1,306.31 610.07,306.31 611.03,306.31 612,306.34 612.96,306.34 613.93,306.4 614.89,306.39 615.86,306.51 616.82,306.48 617.79,306.47 618.75,306.47 619.72,306.53 620.68,306.45 621.65,306.46 622.61,306.42 623.58,306.41 624.54,306.34 625.51,306.32 626.47,306.35 627.43,306.39 628.4,306.46 629.36,306.53 630.33,306.55 631.29,306.52 632.26,306.53 633.22,306.46 634.19,306.36 635.15,306.42 636.12,306.42 637.08,306.5 638.05,306.53 639.01,306.57 639.98,306.53 640.94,306.59 641.91,306.44 642.87,306.46 643.84,306.55 644.8,306.54 645.77,306.54 646.73,306.59 647.7,306.54 648.66,306.47 649.63,306.46 650.59,306.37 651.56,306.41 652.52,306.42 653.48,306.46 654.45,306.49 655.41,306.52 656.38,306.5 657.34,306.54 658.31,306.5 659.27,306.53 660.24,306.58 661.2,306.5 662.17,306.48 663.13,306.44 664.1,306.43 665.06,306.37 666.03,306.47 666.99,306.44 667.96,306.43 668.92,306.37 669.89,306.44 670.85,306.47 671.82,306.51 672.78,306.53 673.75,306.52 674.71,306.52 675.68,306.49 676.64,306.39 677.61,306.45 678.57,306.51 679.54,306.49 680.5,306.49" fill="none" stroke="#800080" stroke-width="1.05" stroke-linejoin="round" stroke-linecap="round"/>
<polyline points="488.5,302.09 489.46,301.8 490.43,301.48 491.39,301.15 492.36,300.84 493.32,300.51 494.29,300.24 495.25,300.02 496.22,299.79 497.18,299.49 498.15,299.21 499.11,298.9 500.08,298.62 501.04,298.31 502.01,298.06 502.97,297.85 503.94,297.6 504.9,297.27 505.87,296.98 506.83,296.82 507.8,296.55 508.76,296.3 509.73,296.08 510.69,295.86 511.66,295.59 512.62,295.39 513.59,295.07 514.55,294.79 515.52,294.56 516.48,294.23 517.44,293.8 518.41,293.63 519.37,293.43 520.34,293.21 521.3,293.02 522.27,292.9 523.23,292.56 524.2,292.33 525.16,291.97 526.13,291.76 527.09,291.54 528.06,291.37 529.02,291.18 529.99,291.02 530.95,290.83 531.92,290.55 532.88,290.31 533.85,290 534.81,289.73 535.78,289.48 536.74,289.29 537.71,289.07 538.67,288.91 539.64,288.71 540.6,288.37 541.57,288.1 542.53,287.9 543.49,287.64 544.46,287.51 545.42,287.38 546.39,287.29 547.35,287.11 548.32,286.86 549.28,286.62 550.25,286.32 551.21,286.05 552.18,285.74 553.14,285.52 554.11,285.28 555.07,285.16 556.04,284.98 557,284.82 557.97,284.67 558.93,284.45 559.9,284.16 560.86,283.85 561.83,283.58 562.79,283.35 563.76,283.14 564.72,282.95 565.69,282.8 566.65,282.67 567.62,282.41 568.58,282.15 569.55,282.04 570.51,281.92 571.47,281.75 572.44,281.65 573.4,281.48 574.37,281.19 575.33,280.92 576.3,280.72 577.26,280.57 578.23,280.42 579.19,280.25 580.16,280.07 581.12,279.94 582.09,279.68 583.05,279.54 584.02,279.45 584.98,279.31 585.95,279.04 586.91,278.91 587.88,278.63 588.84,278.34 589.81,278.12 590.77,277.99 591.74,277.82 592.7,277.6 593.67,277.5 594.63,277.3 595.6,277.11 596.56,276.9 597.53,276.79 598.49,276.67 599.45,276.44 600.42,276.3 601.38,276.12 602.35,275.96 603.31,275.74 604.28,275.6 605.24,275.48 606.21,275.29 607.17,275.06 608.14,274.9 609.1,274.8 610.07,274.5 611.03,274.35 612,274.31 612.96,274.05 613.93,273.81 614.89,273.74 615.86,273.52 616.82,273.27 617.79,273.2 618.75,273.2 619.72,272.97 620.68,272.8 621.65,272.68 622.61,272.53 623.58,272.28 624.54,272.14 625.51,272.02 626.47,271.76 627.43,271.6 628.4,271.41 629.36,271.18 630.33,271.05 631.29,270.92 632.26,270.72 633.22,270.54 634.19,270.45 635.15,270.33 636.12,270.16 637.08,269.95 638.05,269.84 639.01,269.64 639.98,269.52 640.94,269.44 641.91,269.35 642.87,269.06 643.84,268.93 644.8,268.68 645.77,268.44 646.73,268.25 647.7,268.21 648.66,268.03 649.63,267.87 650.59,267.76 651.56,267.62 652.52,267.5 653.48,267.4 654.45,267.29 655.41,267.17 656.38,267.07 657.34,266.85 658.31,266.64 659.27,266.47 660.24,266.25 661.2,265.98 662.17,265.82 663.13,265.67 664.1,265.5 665.06,265.38 666.03,265.15 666.99,265.04 667.96,264.87 668.92,264.72 669.89,264.56 670.85,264.46 671.82,264.28 672.78,264.12 673.75,264 674.71,263.88 675.68,263.76 676.64,263.6 677.61,263.41 678.57,263.28 679.54,263.08 680.5,262.93" fill="none" stroke="#1a1aa0" stroke-width="1.05" stroke-linejoin="round" stroke-linecap="round"/>
<polyline points="488.5,302.29 489.46,301.97 490.43,301.64 491.39,301.28 492.36,300.88 493.32,300.39 494.29,300.04 495.25,299.68 496.22,299.37 497.18,299.06 498.15,298.82 499.11,298.45 500.08,298.19 501.04,297.95 502.01,297.65 502.97,297.3 503.94,297.07 504.9,296.69 505.87,296.23 506.83,295.85 507.8,295.66 508.76,295.3 509.73,295.04 510.69,294.81 511.66,294.59 512.62,294.2 513.59,293.88 514.55,293.58 515.52,293.34 516.48,293.05 517.44,292.7 518.41,292.45 519.37,292.18 520.34,291.8 521.3,291.5 522.27,291.31 523.23,291.07 524.2,290.75 525.16,290.51 526.13,290.14 527.09,289.86 528.06,289.56 529.02,289.36 529.99,289.07 530.95,288.9 531.92,288.64 532.88,288.38 533.85,288 534.81,287.81 535.78,287.59 536.74,287.32 537.71,287.05 538.67,286.88 539.64,286.55 540.6,286.21 541.57,285.94 542.53,285.6 543.49,285.36 544.46,285.1 545.42,284.91 546.39,284.67 547.35,284.62 548.32,284.38 549.28,284.17 550.25,283.86 551.21,283.65 552.18,283.35 553.14,283.04 554.11,282.76 555.07,282.65 556.04,282.42 557,282.12 557.97,281.92 558.93,281.83 559.9,281.51 560.86,281.29 561.83,281.1 562.79,280.86 563.76,280.53 564.72,280.35 565.69,280.07 566.65,279.88 567.62,279.61 568.58,279.49 569.55,279.19 570.51,279.09 571.47,278.81 572.44,278.65 573.4,278.43 574.37,278.25 575.33,278.03 576.3,277.87 577.26,277.7 578.23,277.46 579.19,277.27 580.16,277 581.12,276.66 582.09,276.43 583.05,276.24 584.02,276.06 584.98,275.89 585.95,275.8 586.91,275.67 587.88,275.41 588.84,275.2 589.81,275.05 590.77,274.9 591.74,274.65 592.7,274.52 593.67,274.37 594.63,274.18 595.6,274 596.56,273.83 597.53,273.68 598.49,273.54 599.45,273.29 600.42,273.18 601.38,273.05 602.35,272.79 603.31,272.5 604.28,272.44 605.24,272.18 606.21,272.01 607.17,271.85 608.14,271.69 609.1,271.36 610.07,271.12 611.03,270.88 612,270.79 612.96,270.65 613.93,270.56 614.89,270.47 615.86,270.27 616.82,270.03 617.79,269.92 618.75,269.69 619.72,269.49 620.68,269.35 621.65,269.22 622.61,269.01 623.58,268.94 624.54,268.8 625.51,268.69 626.47,268.57 627.43,268.34 628.4,268.16 629.36,267.93 630.33,267.72 631.29,267.53 632.26,267.46 633.22,267.18 634.19,267.08 635.15,266.97 636.12,266.73 637.08,266.47 638.05,266.4 639.01,266.21 639.98,265.95 640.94,265.78 641.91,265.63 642.87,265.46 643.84,265.2 644.8,265.03 645.77,264.89 646.73,264.72 647.7,264.52 648.66,264.5 649.63,264.32 650.59,264.21 651.56,264.06 652.52,263.9 653.48,263.64 654.45,263.49 655.41,263.19 656.38,263.02 657.34,262.85 658.31,262.65 659.27,262.49 660.24,262.42 661.2,262.27 662.17,262.14 663.13,262 664.1,261.85 665.06,261.73 666.03,261.53 666.99,261.37 667.96,261.22 668.92,261.18 669.89,261.01 670.85,260.84 671.82,260.69 672.78,260.45 673.75,260.25 674.71,260.11 675.68,259.97 676.64,259.83 677.61,259.71 678.57,259.46 679.54,259.23 680.5,259.08" fill="none" stroke="#9a9a14" stroke-width="1.05" stroke-linejoin="round" stroke-linecap="round"/>
<polyline points="488.5,302.23 489.46,301.82 490.43,301.41 491.39,301.04 492.36,300.58 493.32,300.05 494.29,299.59 495.25,299.13 496.22,298.63 497.18,298.25 498.15,297.91 499.11,297.54 500.08,297.17 501.04,296.72 502.01,296.38 502.97,295.91 503.94,295.55 504.9,295.16 505.87,294.84 506.83,294.42 507.8,294.07 508.76,293.57 509.73,293.18 510.69,292.74 511.66,292.34 512.62,291.97 513.59,291.61 514.55,291.27 515.52,291.01 516.48,290.58 517.44,290.2 518.41,289.82 519.37,289.45 520.34,289.03 521.3,288.66 522.27,288.29 523.23,287.97 524.2,287.59 525.16,287.24 526.13,286.95 527.09,286.64 528.06,286.29 529.02,285.97 529.99,285.64 530.95,285.27 531.92,284.89 532.88,284.65 533.85,284.22 534.81,283.82 535.78,283.5 536.74,283.19 537.71,282.8 538.67,282.57 539.64,282.29 540.6,281.94 541.57,281.6 542.53,281.26 543.49,280.91 544.46,280.56 545.42,280.19 546.39,279.95 547.35,279.68 548.32,279.31 549.28,279.06 550.25,278.86 551.21,278.47 552.18,278.08 553.14,277.82 554.11,277.51 555.07,277.12 556.04,276.84 557,276.58 557.97,276.29 558.93,275.98 559.9,275.78 560.86,275.39 561.83,275.1 562.79,274.73 563.76,274.47 564.72,274.17 565.69,273.98 566.65,273.76 567.62,273.58 568.58,273.33 569.55,273.03 570.51,272.75 571.47,272.43 572.44,272.12 573.4,271.78 574.37,271.49 575.33,271.22 576.3,270.91 577.26,270.66 578.23,270.48 579.19,270.17 580.16,269.84 581.12,269.64 582.09,269.31 583.05,269 584.02,268.82 584.98,268.66 585.95,268.36 586.91,268.19 587.88,267.93 588.84,267.71 589.81,267.4 590.77,267.24 591.74,266.94 592.7,266.69 593.67,266.38 594.63,266.17 595.6,265.83 596.56,265.58 597.53,265.37 598.49,265.21 599.45,264.93 600.42,264.76 601.38,264.63 602.35,264.36 603.31,264.02 604.28,263.74 605.24,263.43 606.21,263.1 607.17,262.88 608.14,262.67 609.1,262.38 610.07,262.18 611.03,261.96 612,261.71 612.96,261.42 613.93,261.24 614.89,261 615.86,260.78 616.82,260.53 617.79,260.33 618.75,260.13 619.72,259.83 620.68,259.51 621.65,259.26 622.61,259.06 623.58,258.73 624.54,258.56 625.51,258.33 626.47,258.12 627.43,257.86 628.4,257.73 629.36,257.46 630.33,257.25 631.29,257.02 632.26,256.79 633.22,256.48 634.19,256.42 635.15,256.2 636.12,255.95 637.08,255.67 638.05,255.5 639.01,255.3 639.98,255.05 640.94,254.79 641.91,254.66 642.87,254.4 643.84,254.03 644.8,253.85 645.77,253.68 646.73,253.52 647.7,253.37 648.66,253.18 649.63,253.03 650.59,252.79 651.56,252.45 652.52,252.26 653.48,252.1 654.45,251.88 655.41,251.69 656.38,251.59 657.34,251.37 658.31,251.1 659.27,250.8 660.24,250.6 661.2,250.32 662.17,250.03 663.13,249.87 664.1,249.75 665.06,249.52 666.03,249.34 666.99,249.1 667.96,248.79 668.92,248.45 669.89,248.17 670.85,247.89 671.82,247.76 672.78,247.56 673.75,247.37 674.71,247.23 675.68,247.01 676.64,246.78 677.61,246.61 678.57,246.37 679.54,246.11 680.5,245.93" fill="none" stroke="#666666" stroke-width="1.05" stroke-linejoin="round" stroke-linecap="round"/>
<polyline points="488.5,302.28 489.46,301.77 490.43,301.29 491.39,300.63 492.36,300.03 493.32,299.41 494.29,298.87 495.25,298.25 496.22,297.75 497.18,297.32 498.15,296.87 499.11,296.32 500.08,295.81 501.04,295.27 502.01,294.74 502.97,294.19 503.94,293.67 504.9,293.12 505.87,292.57 506.83,292.04 507.8,291.53 508.76,291.01 509.73,290.58 510.69,290.1 511.66,289.65 512.62,289.11 513.59,288.61 514.55,288.16 515.52,287.7 516.48,287.19 517.44,286.69 518.41,286.19 519.37,285.69 520.34,285.22 521.3,284.68 522.27,284.19 523.23,283.69 524.2,283.16 525.16,282.59 526.13,282.09 527.09,281.7 528.06,281.27 529.02,280.78 529.99,280.38 530.95,280.09 531.92,279.55 532.88,279.11 533.85,278.67 534.81,278.23 535.78,277.6 536.74,277.22 537.71,276.71 538.67,276.34 539.64,275.75 540.6,275.26 541.57,274.78 542.53,274.31 543.49,273.77 544.46,273.29 545.42,272.94 546.39,272.54 547.35,272.16 548.32,271.65 549.28,271.19 550.25,270.71 551.21,270.17 552.18,269.59 553.14,269.17 554.11,268.8 555.07,268.37 556.04,268.01 557,267.7 557.97,267.3 558.93,267 559.9,266.59 560.86,266.11 561.83,265.61 562.79,265.18 563.76,264.64 564.72,264.2 565.69,263.7 566.65,263.28 567.62,262.83 568.58,262.43 569.55,261.91 570.51,261.66 571.47,261.22 572.44,260.84 573.4,260.41 574.37,260.06 575.33,259.48 576.3,259.05 577.26,258.63 578.23,258.13 579.19,257.76 580.16,257.36 581.12,256.97 582.09,256.53 583.05,256.12 584.02,255.63 584.98,255.21 585.95,254.86 586.91,254.52 587.88,254.13 588.84,253.81 589.81,253.46 590.77,253 591.74,252.55 592.7,252.17 593.67,251.73 594.63,251.3 595.6,250.92 596.56,250.52 597.53,250.18 598.49,249.75 599.45,249.37 600.42,248.92 601.38,248.41 602.35,247.98 603.31,247.65 604.28,247.16 605.24,246.87 606.21,246.59 607.17,246.12 608.14,245.73 609.1,245.38 610.07,244.98 611.03,244.53 612,244.18 612.96,243.71 613.93,243.29 614.89,242.85 615.86,242.61 616.82,242.26 617.79,241.89 618.75,241.57 619.72,241.21 620.68,240.71 621.65,240.31 622.61,240.03 623.58,239.62 624.54,239.24 625.51,238.89 626.47,238.61 627.43,238.17 628.4,237.85 629.36,237.56 630.33,237.23 631.29,236.83 632.26,236.51 633.22,236.19 634.19,235.72 635.15,235.3 636.12,234.89 637.08,234.51 638.05,234.24 639.01,233.92 639.98,233.58 640.94,233.21 641.91,232.93 642.87,232.51 643.84,232.24 644.8,231.88 645.77,231.69 646.73,231.24 647.7,230.88 648.66,230.51 649.63,230.12 650.59,229.67 651.56,229.42 652.52,229.07 653.48,228.74 654.45,228.53 655.41,228.33 656.38,228.02 657.34,227.84 658.31,227.57 659.27,227.24 660.24,226.82 661.2,226.43 662.17,226.01 663.13,225.65 664.1,225.26 665.06,225.09 666.03,224.94 666.99,224.68 667.96,224.46 668.92,224.28 669.89,223.98 670.85,223.65 671.82,223.35 672.78,223.05 673.75,222.79 674.71,222.45 675.68,222.19 676.64,221.97 677.61,221.73 678.57,221.51 679.54,221.3 680.5,221.05" fill="none" stroke="#ff00ff" stroke-width="1.05" stroke-linejoin="round" stroke-linecap="round"/>
<polyline points="488.5,302.08 489.46,301.31 490.43,300.62 491.39,299.97 492.36,299.35 493.32,298.63 494.29,298.05 495.25,297.34 496.22,296.65 497.18,296.02 498.15,295.43 499.11,294.73 500.08,294.14 501.04,293.48 502.01,292.8 502.97,292.01 503.94,291.44 504.9,290.71 505.87,290.1 506.83,289.49 507.8,288.93 508.76,288.15 509.73,287.57 510.69,287 511.66,286.39 512.62,285.86 513.59,285.45 514.55,284.87 515.52,284.26 516.48,283.57 517.44,282.96 518.41,282.33 519.37,281.68 520.34,281.06 521.3,280.62 522.27,280.11 523.23,279.5 524.2,278.97 525.16,278.35 526.13,277.68 527.09,277.01 528.06,276.44 529.02,275.85 529.99,275.27 530.95,274.78 531.92,274.24 532.88,273.68 533.85,273.18 534.81,272.65 535.78,272.06 536.74,271.51 537.71,270.89 538.67,270.25 539.64,269.63 540.6,269.07 541.57,268.55 542.53,267.98 543.49,267.44 544.46,266.92 545.42,266.24 546.39,265.58 547.35,265 548.32,264.41 549.28,263.89 550.25,263.39 551.21,262.83 552.18,262.3 553.14,261.73 554.11,261.06 555.07,260.4 556.04,259.76 557,259.08 557.97,258.36 558.93,257.7 559.9,257.12 560.86,256.53 561.83,255.96 562.79,255.46 563.76,254.94 564.72,254.33 565.69,253.65 566.65,253.04 567.62,252.4 568.58,251.77 569.55,251.1 570.51,250.44 571.47,249.88 572.44,249.26 573.4,248.64 574.37,248.04 575.33,247.54 576.3,246.85 577.26,246.23 578.23,245.63 579.19,244.98 580.16,244.33 581.12,243.72 582.09,243.07 583.05,242.45 584.02,241.82 584.98,241.13 585.95,240.51 586.91,239.86 587.88,239.19 588.84,238.61 589.81,238.04 590.77,237.28 591.74,236.78 592.7,236.14 593.67,235.6 594.63,234.97 595.6,234.42 596.56,233.76 597.53,233.08 598.49,232.53 599.45,231.85 600.42,231.24 601.38,230.54 602.35,229.99 603.31,229.32 604.28,228.8 605.24,228.26 606.21,227.72 607.17,227.19 608.14,226.45 609.1,225.76 610.07,225.12 611.03,224.51 612,223.79 612.96,223.18 613.93,222.72 614.89,222.18 615.86,221.53 616.82,220.98 617.79,220.46 618.75,219.79 619.72,219.2 620.68,218.68 621.65,217.98 622.61,217.42 623.58,216.83 624.54,216.17 625.51,215.52 626.47,214.97 627.43,214.37 628.4,213.73 629.36,213.06 630.33,212.53 631.29,211.91 632.26,211.27 633.22,210.7 634.19,210.21 635.15,209.49 636.12,208.78 637.08,208.18 638.05,207.48 639.01,206.76 639.98,206.18 640.94,205.61 641.91,204.91 642.87,204.27 643.84,203.59 644.8,202.94 645.77,202.2 646.73,201.5 647.7,200.8 648.66,200.15 649.63,199.45 650.59,198.87 651.56,198.2 652.52,197.45 653.48,196.66 654.45,195.94 655.41,195.25 656.38,194.5 657.34,193.9 658.31,193.27 659.27,192.47 660.24,191.6 661.2,190.88 662.17,190.1 663.13,189.3 664.1,188.6 665.06,187.93 666.03,187.12 666.99,186.41 667.96,185.7 668.92,184.94 669.89,184.16 670.85,183.49 671.82,182.77 672.78,182.07 673.75,181.33 674.71,180.68 675.68,179.94 676.64,179.16 677.61,178.43 678.57,177.7 679.54,176.99 680.5,176.31" fill="none" stroke="#000000" stroke-width="1.05" stroke-linejoin="round" stroke-linecap="round"/>
<polyline points="488.5,302.11 489.46,301.48 490.43,300.74 491.39,300.03 492.36,299.37 493.32,298.74 494.29,297.98 495.25,297.42 496.22,296.79 497.18,296.09 498.15,295.4 499.11,294.8 500.08,294.12 501.04,293.5 502.01,292.85 502.97,292.16 503.94,291.5 504.9,290.86 505.87,290.25 506.83,289.72 507.8,289.19 508.76,288.68 509.73,288.1 510.69,287.45 511.66,286.75 512.62,286.2 513.59,285.52 514.55,284.83 515.52,284.26 516.48,283.72 517.44,283.03 518.41,282.51 519.37,281.98 520.34,281.32 521.3,280.76 522.27,280.12 523.23,279.45 524.2,278.84 525.16,278.33 526.13,277.71 527.09,277.22 528.06,276.74 529.02,276.11 529.99,275.56 530.95,274.97 531.92,274.38 532.88,273.68 533.85,273.24 534.81,272.72 535.78,272.22 536.74,271.67 537.71,271.19 538.67,270.67 539.64,270 540.6,269.45 541.57,268.82 542.53,268.26 543.49,267.58 544.46,267.15 545.42,266.61 546.39,266.14 547.35,265.6 548.32,265.16 549.28,264.54 550.25,264 551.21,263.5 552.18,263.02 553.14,262.44 554.11,261.95 555.07,261.46 556.04,260.96 557,260.46 557.97,259.92 558.93,259.31 559.9,258.82 560.86,258.31 561.83,257.64 562.79,257.2 563.76,256.74 564.72,256.2 565.69,255.67 566.65,255.21 567.62,254.64 568.58,254.12 569.55,253.55 570.51,252.97 571.47,252.5 572.44,252.08 573.4,251.52 574.37,251.03 575.33,250.6 576.3,250.09 577.26,249.55 578.23,249.14 579.19,248.65 580.16,248.1 581.12,247.55 582.09,247.11 583.05,246.57 584.02,246.01 584.98,245.54 585.95,244.99 586.91,244.44 587.88,243.95 588.84,243.52 589.81,243.04 590.77,242.63 591.74,242.08 592.7,241.55 593.67,241.02 594.63,240.44 595.6,239.95 596.56,239.48 597.53,239.12 598.49,238.66 599.45,238.21 600.42,237.64 601.38,237.18 602.35,236.58 603.31,236.1 604.28,235.56 605.24,235.12 606.21,234.59 607.17,234.07 608.14,233.59 609.1,233.19 610.07,232.66 611.03,232.14 612,231.72 612.96,231.16 613.93,230.59 614.89,230.12 615.86,229.65 616.82,229.18 617.79,228.76 618.75,228.24 619.72,227.73 620.68,227.3 621.65,226.85 622.61,226.35 623.58,225.98 624.54,225.54 625.51,225 626.47,224.47 627.43,223.9 628.4,223.42 629.36,222.99 630.33,222.52 631.29,222.07 632.26,221.62 633.22,220.99 634.19,220.46 635.15,219.91 636.12,219.33 637.08,218.8 638.05,218.36 639.01,217.83 639.98,217.37 640.94,216.95 641.91,216.48 642.87,216 643.84,215.41 644.8,214.85 645.77,214.23 646.73,213.66 647.7,213.16 648.66,212.78 649.63,212.3 650.59,211.84 651.56,211.33 652.52,210.77 653.48,210.21 654.45,209.79 655.41,209.26 656.38,208.83 657.34,208.42 658.31,207.88 659.27,207.21 660.24,206.73 661.2,206.18 662.17,205.61 663.13,205.1 664.1,204.65 665.06,204.18 666.03,203.64 666.99,203.07 667.96,202.52 668.92,201.98 669.89,201.35 670.85,200.83 671.82,200.31 672.78,199.84 673.75,199.35 674.71,198.78 675.68,198.19 676.64,197.68 677.61,197.14 678.57,196.55 679.54,196.09 680.5,195.59" fill="none" stroke="#2a2aff" stroke-width="1.05" stroke-linejoin="round" stroke-linecap="round"/>
<text x="496.8" y="188.6" font-size="12" text-anchor="start" fill="#222" font-weight="normal" font-style="normal" textLength="60" lengthAdjust="spacingAndGlyphs"><tspan font-style="italic">t</tspan> &#8776; 18.7 nm</text>
<g transform="translate(471.6,270.6) rotate(-90)">
<g transform="scale(0.87)" fill="none" stroke="#222" stroke-width="1.27" stroke-linecap="round"><ellipse cx="5.9" cy="-3.1" rx="4.0" ry="2.45" transform="rotate(-48 5.9 -3.1)"/><path d="M3.3,-1.2 L0.6,3.5"/></g>
<text x="13.4" y="0" font-size="13" fill="#222" textLength="41" lengthAdjust="spacingAndGlyphs">(&#956;&#937;cm)</text>
</g>
<text x="560.6" y="347.0" font-size="14" fill="#222"><tspan font-style="italic">&#956;</tspan><tspan font-size="10.2" dy="3.8">0</tspan><tspan dy="-3.8" font-style="italic">H</tspan> (T)</text>
</svg></body></html>
